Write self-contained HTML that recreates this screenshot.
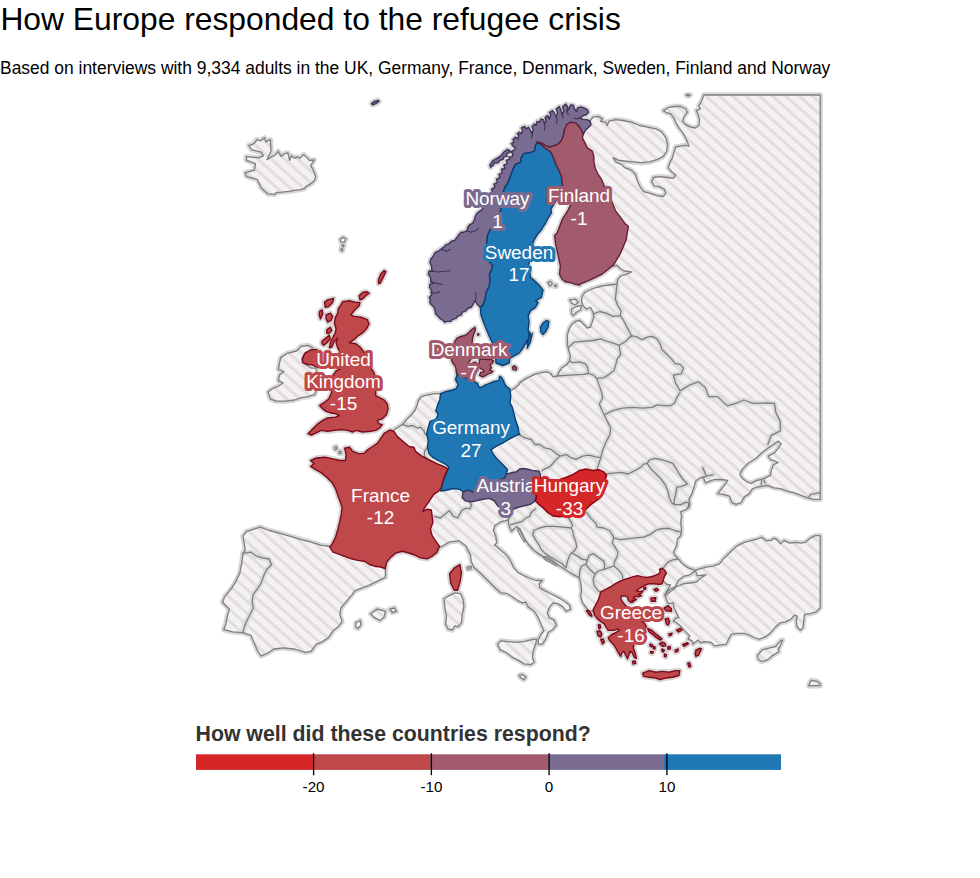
<!DOCTYPE html>
<html><head><meta charset="utf-8"><title>How Europe responded to the refugee crisis</title>
<style>
html,body{margin:0;padding:0;background:#fff;}
body{width:980px;height:878px;position:relative;overflow:hidden;font-family:"Liberation Sans",sans-serif;}
svg{position:absolute;left:0;top:0;}
text{font-family:"Liberation Sans",sans-serif;}
</style></head><body>
<svg width="980" height="878" viewBox="0 0 980 878">
<defs>
<pattern id="hatch" patternUnits="userSpaceOnUse" width="13.3" height="40" patternTransform="translate(11.2 0) skewX(48.2)">
<rect x="0" y="0" width="4.5" height="40" fill="#e4dddd"/>
</pattern>
<clipPath id="mapclip"><rect x="200" y="90" width="623" height="600"/></clipPath>
</defs>
<text x="0.4" y="30.3" font-size="31.8" fill="#000">How Europe responded to the refugee crisis</text>
<text x="0" y="73.6" font-size="17.45" fill="#000">Based on interviews with 9,334 adults in the UK, Germany, France, Denmark, Sweden, Finland and Norway</text>
<g clip-path="url(#mapclip)">
<g fill="none" stroke="#d6d6d6" stroke-width="5.4" stroke-linejoin="round" stroke-linecap="round">
<path d="M330.7,546.5 L321.6,545.4 L310.2,541.9 L301.1,539.7 L289.7,536.2 L278.3,532.8 L269.2,530.5 L260.1,527.1 L253.3,529.4 L246.4,531.7 L243,536.2 L244.2,543.1 L245.3,549.9 L243,553.3 L241.9,562.4 L239.6,573.8 L235.1,582.9 L230.5,589.8 L224.8,596.6 L222.5,602.3 L225.9,605.7 L229.4,609.1 L227.1,617.1 L225.9,623.9 L223.7,629.6 L232.8,631.9 L243,632.6 L251,635.3 L254.4,643.3 L257.8,651.2 L261.2,655.8 L266.9,653.5 L273.8,649 L282.9,647.8 L294.3,649 L305.7,652.4 L311.3,651.2 L315.9,644.4 L321.6,642.1 L328.4,637.6 L333,630.8 L338.7,626.2 L342.1,621.6 L339.8,614.8 L340.9,608 L346.6,601.1 L352.3,594.3 L354.6,590.9 L360.3,588.6 L369.4,585.2 L378.5,580.7 L385.4,577.2 L385.4,571.5 L386,562 L395,546 L430,546 L438,547 L441.6,546.5 L449.6,541.9 L458.7,540.8 L466.7,546.5 L467.2,549.1 L470.5,554.9 L471.3,561.5 L473.8,567.3 L479.5,572.2 L485.3,578 L491.1,583.8 L496.1,588.8 L501,592.9 L507.6,593.7 L512.6,597 L517.5,600.3 L522.5,602.8 L525.8,602 L528.2,606.9 L533.2,610.2 L536.5,614.4 L539,619.3 L541.5,625.1 L543.9,630.9 L540.6,635 L538.2,639.9 L538.2,644.1 L542.3,644.1 L545.6,639.1 L548.1,632.5 L553,629.2 L556.3,625.1 L553.8,620.1 L548.9,617.7 L547.2,612.7 L549.7,606.9 L553,602.8 L558,603.6 L562.9,606.9 L566.2,611.1 L570.4,609.4 L569.5,605.3 L565.4,602 L558.8,597.8 L552.2,594.5 L545.6,591.2 L539.8,587.9 L539,583.8 L542.3,580.5 L535.7,580.5 L529.1,578 L523.3,575.5 L517.5,572.2 L513.4,567.3 L510.9,561.5 L507.6,556.6 L503.5,552.4 L498.5,548.3 L494.4,545 L496.6,542.9 L495.8,536.3 L493.3,530.5 L495,525.5 L499.9,522.2 L505.7,520.6 L508.2,519.8 L509,525.5 L511.5,531.3 L514.8,528 L517.2,526.4 L520.5,530.5 L523.9,537.1 L528,543.7 L533.8,550.3 L539.5,554.4 L547,558.6 L554.4,562.7 L561,566.8 L567.6,571 L574.2,575.1 L579.2,577.6 L580.8,583.3 L581.6,589.9 L580.8,596.6 L582.5,602.3 L585.8,607.3 L589.1,610.6 L592.4,611.4 L602,600 L615,590 L630,583 L645,580 L658,578 L663,579 L663.6,581.4 L667,584.5 L670.5,585 L667.5,590 L665,594.8 L665,595.4 L668.3,603.7 L673.3,602.8 L674.1,607.8 L676.6,612.7 L679,617.7 L676.6,617.7 L673.3,621 L676.6,622.7 L680.7,626 L684.8,630.9 L689.8,635.9 L688.1,639.2 L692.2,640.8 L693.1,644.1 L698,640 L700.5,642.5 L705.5,641.6 L711.2,642.5 L714.5,645.8 L721.1,644.9 L726.1,644.1 L728.6,639.2 L731.1,634.2 L737.7,633.4 L744.3,633.4 L749.2,635 L754.2,637.5 L759.1,639.2 L765.7,636.7 L770.7,632.6 L775.6,626.8 L780.6,622.7 L785.5,621.8 L790.5,619.4 L794.6,615.2 L797.1,616.1 L796.3,621 L797.1,626.8 L800.4,630.1 L802.9,627.6 L803.7,621 L804.5,614.4 L810.3,613.6 L816.1,611.9 L820.2,607.8 L820.2,535.7 L815.3,535.7 L810.3,538.2 L805.4,542.3 L800.4,543.1 L795.4,542.3 L789.7,543.1 L783.9,540.6 L780.6,543.9 L777.3,539.8 L774,538.2 L770.7,540.6 L765.7,540.6 L761.6,537.3 L757.5,539 L750.9,540.6 L744.3,542.3 L737.7,545.6 L732.7,549.7 L727.7,554.7 L722.8,559.6 L719.5,563.8 L712.9,566.2 L706.3,567.1 L700.5,568.7 L695.5,570.4 L688.1,567.9 L682.3,563.8 L679,559.6 L674.9,555.5 L673.3,552.2 L676.6,545.6 L677.4,539 L680.7,535.7 L681.5,529.1 L680.7,522.5 L681.5,515.9 L680.7,511.7 L686.5,509.3 L689.8,504.3 L688.9,499.4 L691.4,494.4 L693.9,487.8 L695.5,481.2 L699.7,477.9 L703,477.1 L705.5,482.8 L709.6,481.2 L714.5,479.5 L721.1,479.5 L727.7,480.4 L724.4,485.3 L721.1,489.4 L717.8,493.6 L722.8,494.4 L729.4,496.1 L731.9,502.7 L736,504.3 L741,502.7 L744.3,496.9 L749.2,493.6 L752.5,488.6 L757.5,487 L762.4,486.1 L767.4,485.3 L774,487.8 L780.6,488.6 L787.2,491.1 L793.8,492.7 L800.4,495.2 L807,497.7 L813.6,499.4 L820.2,499.4 L820.2,95 L703.8,95 L703,97.4 L701.4,101.6 L698.9,105.7 L700.5,109 L696.4,110.6 L698.1,114.8 L699.7,119.7 L698.9,125.5 L695.6,128 L690.6,127.2 L685.7,124.7 L682.4,121.4 L684,116.4 L687.3,112.3 L685.7,109 L680.7,106.5 L674.9,106.5 L669.2,107.3 L663.4,110.6 L665.9,112.3 L670.8,113.9 L674.1,118.1 L676.6,123.9 L679.1,128 L682.4,132.1 L684.9,136.2 L687.3,141.2 L689,146.1 L685.7,145.3 L680.7,146.1 L675.8,147 L674.1,151.9 L672.5,157.7 L670,162.7 L668.3,167.6 L671.6,171.7 L675.8,175 L673.3,178.3 L667.5,177.5 L659.3,176.7 L653.5,177.5 L651.8,181.6 L654.3,185.8 L659.3,186.6 L664.2,189.1 L665.9,193.2 L663.4,196.5 L656.8,195.7 L649.4,193.2 L643.6,191.6 L639.4,185.8 L637,180 L635.3,174.2 L631.2,170.1 L624.6,167.6 L621.3,164.3 L615.5,161.8 L613,157.7 L618,160.2 L624.6,161 L632.8,161.8 L641.1,162.7 L649.4,161.8 L657.6,159.4 L663.4,156.1 L666.7,151.1 L667.5,144.5 L665.9,137.9 L661.7,132.1 L656,128.8 L647.7,127.2 L639.4,125.5 L631.2,122.2 L622.9,120.5 L615.5,119.7 L608.9,121.4 L607.2,125.5 L605.6,122.2 L600.6,121.4 L602.3,118.9 L598.2,116.4 L593.2,117.2 L589.9,120.5 L586,124 L580,137 L585,155 L592,175 L600,195 L610,215 L615,240 L610,262 L613.7,266.1 L617,265.2 L620.3,268.5 L624.4,271 L631.8,271.8 L626.1,274.3 L621.1,276 L617.8,279.3 L617,284.2 L609.5,285 L602.9,285.9 L596.3,287.5 L589.7,290 L584.8,292.5 L582.3,295.8 L581.5,300.7 L583.1,305.7 L586.4,309 L590.5,307.3 L593,312.3 L593.9,317.2 L592.2,322.2 L590.5,327.1 L587.2,328 L583.1,323.8 L579.8,320.5 L575.7,321.4 L572.4,323.8 L569.1,328.8 L567.4,335.4 L567.4,345 L568.7,349.5 L570.4,356.1 L569.5,361.1 L567.1,364.4 L562.1,367.7 L559.6,371 L557.2,376 L553,376.8 L550.5,373.5 L547.2,371.8 L541.5,372.7 L534.9,374.3 L526.6,378.4 L520,382.6 L519.1,384.5 L515,388 L511.2,390.3 L505,400 L470,410 L446,401 L440.6,393.6 L434.9,393.6 L426.6,395.2 L421.5,396.6 L418.5,400.5 L417.2,405 L415.3,410 L411.4,414.8 L406.4,419.8 L403.1,423.9 L398.2,427.2 L393.2,430.5 L395,440 L370,500 L345,540 L333,547Z M267.1,159.6 L271.4,156.8 L274.6,155.7 L278.2,151.4 L281.1,156.4 L284.3,153.9 L287.9,152.9 L289.6,160.4 L291.4,155.7 L294.3,158.2 L297.1,157.1 L300,158.2 L303.6,154.6 L307.1,157.9 L309.3,160.4 L314.3,160 L311.4,164.3 L310.4,165.7 L312.5,168.6 L314.3,172.9 L315.7,176.4 L314.6,180 L312.1,182.9 L309.3,184.6 L306.4,186.1 L304.3,188.6 L300,189.6 L294.3,190.4 L288.6,191.4 L282.1,192.1 L276.4,192.5 L274.6,194.3 L267.9,193.9 L264.3,190.7 L260.7,187.1 L259.3,183.2 L257.1,179.3 L252.9,178.2 L250,177.5 L246.4,176.1 L245.3,172.7 L254.4,170.4 L255.5,163.6 L246.4,160.2 L246.4,156.7 L259,157.9 L263.5,155.6 L261.2,152.2 L252.1,149.9 L248.7,145.4 L252.1,144.7 L255.5,141.9 L256.7,139.7 L260.6,140.8 L264.7,137.8 L265.8,141.9 L270.4,139.7 L271,151Z M340.3,239.3 L343,237.4 L345.8,239 L344.3,242.2 L341,242.2Z M342.3,244.6 L344,245.2 L343.3,247 L342,246.3Z M341.2,248.5 L342.8,249 L342.2,251 L341,250.2Z M280.6,357.9 L287.4,353.3 L296.5,351 L301.1,346.5 L307.9,345.4 L312.5,347.6 L311.3,351 L305.7,352.2 L302.2,357.9 L302.2,362.4 L305.7,364.7 L311.3,368.1 L315.9,368.1 L317,373.8 L318.2,380.7 L317,387.5 L314.8,394.3 L307.9,396.6 L301.1,397.7 L294.3,400 L285.2,401.1 L276,401.1 L270.4,398.9 L268.1,392 L272.6,388.6 L278.3,386.3 L282.9,382.9 L278.3,380.7 L279.5,375 L284,371.5 L278.3,369.3 L279.5,363.6Z M444,598.7 L448.2,596.2 L454.8,592.9 L460.5,593.7 L463,599.5 L463.9,606.1 L462.2,614.4 L461.4,622.6 L458.1,626.7 L454.8,625.9 L452.3,630 L448.2,629.2 L445.7,624.3 L446.5,616 L444.9,607.7Z M497.7,644.1 L501,640.8 L507.6,641.6 L515.9,642.4 L524.1,641.6 L530.7,639.9 L536.5,639.1 L535.7,644.1 L533.2,650.7 L532.4,657.3 L534,662.2 L530.7,664.7 L524.1,663.9 L519.2,660.6 L512.6,657.3 L506,652.3 L500.2,649.9Z M519.2,675.4 L522.5,674.6 L525.8,677.1 L524.1,679.6 L520.8,677.9Z M467.2,567.3 L471.3,566.5 L471,568.9 L467.6,569.4Z M370.6,613.7 L377.4,609.1 L385.4,611.4 L384.2,617.1 L379.7,620.5 L374,617.1Z M389.9,609.1 L394.5,608 L396.3,611.4 L392.2,612.5Z M355.8,622.8 L360.3,620.5 L360.8,625.1 L358,628.5 L355.8,627.3Z M757.5,655.7 L762.4,649.9 L769,648.2 L775.6,646.6 L780.6,640.8 L782.6,640 L780.6,644.9 L778.1,649.9 L778.9,651.6 L772.3,655.7 L767.4,659.8 L761.6,661.5 L758.3,659Z M808.7,685.7 L811.1,680.4 L816.9,681.3 L820.2,683.8 L820.2,685.7Z M569.9,299.9 L575.7,299.1 L578.2,302.4 L574.9,304.9 L571.6,303.2Z M571.6,309 L576.5,306.5 L581.5,305.7 L580.6,309.8 L576.5,312.3 L573.2,315.6 L571.6,313.1Z M548,282.6 L550.4,281.4 L552.4,283.9 L549.8,286Z M554.6,285.2 L556.1,284.9 L556.4,286.4 L554.9,286.7Z M686.2,95 L688.2,94.5 L690.3,95.1 L688.3,96.1Z M334.3,447.3 L336.3,446.5 L337.2,448.9 L335,449.8Z M338.8,451.4 L340.8,451.1 L341.3,453.4 L339.3,453.7Z"/>
<path d="M480.3,307.3 L477,304 L475.3,300.7 L473.7,303.2 L471.2,307.3 L467.9,308.2 L466.2,310.6 L462.1,312.3 L461.3,314.8 L457.2,316.4 L456.3,318.1 L452.2,319.7 L450.5,321.4 L447.2,321.4 L444.8,322.2 L442.3,319.7 L440.6,318.9 L437.3,315.6 L435.7,313.9 L434.9,309.8 L434,307.3 L430.7,304 L429.9,302.4 L430.2,299.1 L429.1,297.4 L431.6,294.9 L431.6,290.8 L429.6,287.5 L429.9,284.2 L433.2,283.4 L430.7,281.7 L430.7,277.6 L428.3,274.3 L429.1,271 L433.2,271.3 L431.6,269.4 L431.6,266.1 L429.9,262.7 L430.7,259.4 L433.2,256.1 L434.9,252.8 L438.2,251.2 L441.5,248.7 L443.9,247.1 L446.4,244.6 L448.9,243.8 L451.4,241.3 L454.7,240.5 L457.2,237.2 L458.8,234.7 L461.3,232.2 L463.8,232.2 L467.1,230.5 L467.9,227.2 L469.5,224.8 L472.8,223.1 L474.5,219.8 L475.3,216.5 L477,213.2 L482.6,209.1 L492.4,192.4 L491.6,189.1 L494.9,187.5 L494,184.2 L497.3,182.5 L496.5,179.2 L499.8,177.6 L499,174.3 L502.3,172.6 L501.5,169.3 L504.8,168.5 L503.9,165.2 L507.2,163.5 L506.4,160.2 L509.7,159.4 L508.9,156.9 L512.2,156.9 L513,153.6 L510.5,152 L513.9,150.3 L515.5,147.8 L513,146.2 L511.4,143.7 L513.9,142.1 L513,139.6 L515.5,137.1 L518,138.8 L518.8,135.5 L517.2,133.8 L519.6,132.2 L521.3,133.8 L522.6,130.5 L521.3,128 L524.6,126.4 L526.2,128.9 L528.7,127.2 L530.4,130.5 L532,133.8 L533.2,129.7 L532,126.4 L534.5,123.9 L536.1,125.5 L537,121.4 L539.4,122.2 L541.1,118.9 L543.6,119.8 L544.4,123.9 L546.1,121.4 L545.2,117.3 L547.7,115.6 L549.4,118.9 L550.7,114.8 L549.4,112.3 L552.7,110.7 L554.3,113.2 L556,116.5 L557.6,113.2 L556.3,109 L559.3,106.6 L560.9,109.9 L562.2,114.8 L563.9,110.7 L562.6,106.6 L565.9,104.1 L567.8,107.4 L567.2,111.5 L569.2,108.2 L570.5,104.9 L573.3,105.2 L574.5,109 L576.6,111.5 L577.4,107.9 L580.7,106.9 L584,107.9 L587.3,109.9 L588.5,112.3 L586.5,114.5 L583.2,115.6 L579.9,118.1 L583.2,119.4 L587.3,119.8 L590.3,121.1 L591,125.1 L588.2,127.7 L585.4,130.2 L583.2,134.6 L581.6,130.5 L579.1,126.4 L575.8,123.1 L570.8,122.2 L566.7,124.7 L564.2,130.5 L563.4,136.3 L560.9,141.2 L557.6,144.5 L552.7,146.2 L549.4,147 L545.2,145.4 L541.1,142.9 L537,142.1 L535.3,146.2 L534.5,151.1 L529.5,152.8 L523.8,153.6 L521.3,157.7 L520.5,162.7 L515.5,164.4 L513,169.3 L510.5,175.9 L508.1,182.5 L504.8,187.5 L503.1,192.4 L500.9,209.9 L497.6,218.2 L492.7,226.4 L490.2,229.7 L487.7,234.7 L486.9,241.3 L486.1,249.5 L486.9,254.5 L488.5,261.1 L492.7,265.2 L491.8,269.4 L489.4,274.3 L490.2,279.3 L489.4,285.9 L486.1,292.5 L485.2,299.1 L482.7,305.7Z M489.9,165.2 L492.4,161.1 L496.5,158.6 L500.6,156.1 L503.9,152 L507.2,149.5 L509.7,150.3 L508.9,152.8 L506.4,153.6 L507.2,156.1 L503.9,156.9 L503.1,159.4 L499.8,160.2 L498.2,162.7 L494.9,162.7 L493.2,165.2 L490.7,167.2Z M371.5,103.5 L374,101.5 L378,100.3 L379,101.5 L376,103.5 L372.5,104.8Z M537,142.1 L541.1,144.5 L546.1,148.7 L551,152 L553.5,157.7 L556,164.4 L559.3,171 L561.7,177.6 L562.6,185 L560.9,189.1 L556,200.7 L551,208.9 L551.3,213.2 L548,218.2 L545.5,223.1 L541.4,229.7 L537.2,234.7 L533.9,240.5 L532.3,244.6 L530.6,254.5 L529,263.6 L527.3,266.1 L529.8,272.7 L530.6,277.6 L534.8,280.9 L538.9,285 L543,290 L541.4,297.4 L535.6,300.7 L538.1,302.4 L535.6,307.3 L530.6,310.6 L528.2,315.6 L529,322.2 L528.2,328.8 L529,335.4 L527.3,345 L527.3,339.9 L524,346.5 L519.1,353.1 L510,358.1 L509.2,363 L502.6,365.5 L496,363 L495.1,349.8 L492.7,343.2 L489.4,336.6 L486.1,328.8 L483.6,322.2 L481.1,315.6 L480.3,307.3 L482.7,305.7 L485.2,299.1 L486.1,292.5 L489.4,285.9 L490.2,279.3 L489.4,274.3 L491.8,269.4 L492.7,265.2 L488.5,261.1 L486.9,254.5 L486.1,249.5 L486.9,241.3 L487.7,234.7 L490.2,229.7 L492.7,226.4 L497.6,218.2 L500.9,209.9 L503.1,192.4 L504.8,187.5 L508.1,182.5 L510.5,175.9 L513,169.3 L515.5,164.4 L520.5,162.7 L521.3,157.7 L523.8,153.6 L529.5,152.8 L534.5,151.1 L535.3,146.2Z M540.5,327.1 L543,323 L546.3,320.5 L548.8,321.4 L548,327.1 L545.5,332.1 L543,334.6 L540.9,332.1Z M529.8,332.1 L531,337.1 L530.3,342 L532.3,333.3 L529.8,343.2 L527.3,348.2 L528.2,339.9 L528.2,340.4Z M537,142.1 L541.1,142.9 L545.2,145.4 L549.4,147 L552.7,146.2 L557.6,144.5 L560.9,141.2 L563.4,136.3 L564.2,130.5 L566.7,124.7 L570.8,122.2 L575.8,123.1 L579.1,126.4 L581.6,130.5 L583.2,134.6 L582.4,137.9 L584.9,142.9 L587.3,147.8 L592.3,151.1 L593.9,156.1 L593.9,162.7 L595.6,169.3 L598.1,174.3 L601.4,179.2 L603.8,185 L607.1,190.8 L612.1,202.3 L615.4,210.6 L620.4,217.2 L625.3,223.8 L628.4,226.2 L626.1,239.9 L620.4,253.5 L613.6,264.9 L602.2,274 L590.8,279.7 L579.4,284.3 L580,285 L575.2,284.2 L570.3,282.6 L565.3,281.7 L562,279.3 L559.5,274.3 L560.4,266.1 L557.9,254.5 L555.4,242.9 L554.6,235.5 L557.1,233 L562.3,219.4 L568,210.3 L571.4,203.4 L565.9,194.1 L560.9,189.1 L562.6,185 L561.7,177.6 L559.3,171 L556,164.4 L553.5,157.7 L551,152 L546.1,148.7 L541.1,144.5Z M474.9,327.3 L475.4,330.1 L473.5,334.7 L472.6,338.4 L472.1,342 L471.7,347.5 L470.3,353.1 L471.2,358.6 L469.4,361.3 L467.5,364.1 L466.6,367.8 L467.5,371.4 L468.5,375.1 L467.5,378.8 L460.2,375.1 L457,374.2 L456.5,373.3 L456.1,369.6 L455.2,365.9 L452.9,363.2 L451.5,359.9 L451.9,354.9 L452.9,349.4 L454.2,343 L455.2,340.7 L457.4,337.9 L461.1,336.5 L465.7,335.2 L468.5,332.9 L471.2,330.1Z M479.5,359.5 L483.2,359 L487.8,359.5 L491.4,359.5 L493.7,360.9 L492.3,363.2 L490,365 L491.4,367.8 L489.6,370 L492.8,371.4 L491.4,372.8 L487.8,374.2 L485,376 L482.2,376.9 L479.5,375.1 L480.9,372.3 L484.1,371.9 L483.2,369.6 L480.4,368.7 L479,365.9Z M472.1,363.2 L475.4,362.2 L477.6,364.1 L477.2,367.8 L474.9,370 L472.1,368.7 L471.2,365.9Z M512.5,366.8 L514.4,365.9 L516.7,367.8 L516.2,370 L513,369.6Z M477.5,334 L478.6,333.8 L478.9,334.9 L477.8,335.2Z M457.2,374.6 L455.5,379.5 L458,384.5 L456.3,388.6 L451.4,390.3 L444.8,391.9 L440.6,393.6 L439.8,399.4 L437.3,406 L435.7,410.9 L438.2,414.2 L435.7,419.2 L429.9,421.6 L428.3,427.4 L426.6,434 L428.3,440.6 L427.4,447.2 L429.1,453.8 L432.4,457.1 L438.2,460.4 L444.8,463.8 L448.9,467.1 L445.7,474.5 L443.2,481.1 L441.6,487.7 L440.7,491 L446.5,490.2 L453.1,488.5 L459.7,489.4 L463,491.8 L468.8,490.2 L473.8,492.7 L477.1,490.2 L481.2,491 L486.1,487.7 L491.1,486.1 L496.1,482.7 L501,479.4 L505.1,477.8 L506,474.5 L507.6,469.5 L502.7,464.6 L497.7,459.6 L493.6,454.7 L491.1,449.7 L496.1,446.4 L502.7,443.1 L509.3,439 L515.9,435.7 L520,434 L519.1,434 L518.2,427.4 L515.8,420.8 L514.1,414.2 L512.5,407.6 L510,402.7 L510.8,396.1 L510,390.3 L509.8,388.9 L507,387 L504.7,384.3 L503.4,380.6 L501.5,377.4 L499.7,376.5 L498.8,380.6 L494.2,381.5 L489.6,383.4 L485,385.2 L481.3,387.5 L478.6,386.6 L477.6,383.4 L473.1,381.1 L467.5,378.8 L460.2,375.1 L457,374.2Z M463,491.8 L462.2,497.6 L465.5,500.9 L471.3,501.7 L476.2,500.9 L482.8,499.3 L489.4,498.4 L494.4,500.9 L497.7,505.9 L502.7,509.2 L510.9,510 L517.5,507.5 L524.1,505.9 L530.7,504.2 L534.9,500.9 L536.5,496 L534.9,491 L537.3,486.1 L539.8,481.1 L540.6,475.3 L539,471.2 L532.4,470.4 L525.8,468.7 L520,468.7 L515.9,472 L510.9,472.8 L506,474.5 L505.1,477.8 L501,479.4 L496.1,482.7 L491.1,486.1 L486.1,487.7 L481.2,491 L477.1,490.2 L473.8,492.7 L468.8,490.2Z M541,478 L546,479 L553,480 L560,479.5 L564.5,478 L572.7,474.7 L579.4,470.5 L586,469 L592.6,470.5 L599.2,469.7 L604,472.2 L606.6,475.5 L605,480.5 L602.5,486 L600,498 L596,501 L591,504.4 L587.6,507.7 L584.3,511 L582.7,513.5 L576,515 L567.8,516 L559.5,516.8 L553,516 L548,512.7 L543,507.7 L539,504.4 L535.6,501 L536.5,496 L535,491 L538,485Z M390,430 L394.1,431.6 L397.4,436.6 L403.2,441.5 L409,446.5 L413.9,447.3 L415.6,451.4 L422.2,456.4 L430.4,460.5 L437.1,463.8 L443.7,466.3 L447.8,468.8 L445.3,474.5 L442.8,481.1 L441.2,487.7 L438.7,491.1 L433.8,494.4 L430.4,499.3 L427.1,504.3 L423.8,509.2 L423,511.7 L427.1,509.2 L431.3,510 L432.1,515.8 L432.9,522.4 L430.4,529 L432.1,535.6 L435.4,540.6 L439.5,546.4 L437.1,552.1 L432.1,556.3 L427.1,558.8 L420.5,557.9 L415.6,555.4 L409,553 L402.4,551.3 L395.8,553 L390.8,557.1 L386.7,562.1 L385,568.7 L380.9,567 L374.3,566.2 L369.4,564.5 L364.4,561.2 L357.8,560.4 L351.2,558.8 L344.6,556.3 L338,553.8 L333,552.1 L329.7,547.2 L332.2,543.9 L335.5,537.3 L338,529 L339.6,522.4 L341.3,514.2 L342.1,507.6 L340.5,502.6 L338,496 L335.5,488.6 L332.2,482.8 L327.2,477.8 L321.5,472.9 L315.7,469.6 L310.7,466.3 L314,463.8 L310.7,460.5 L316.5,458 L324.8,457.2 L333,458.9 L339.6,460.5 L345.4,460.5 L346.2,454.7 L344.6,448.1 L349.5,447.3 L352.8,451.4 L359.4,453.9 L364.4,453.1 L367.7,449.8 L372.7,446.5 L377.6,443.2 L380.9,438.2 L384.2,433.3Z M449.6,573.8 L454.2,568.1 L459.9,564.7 L461.4,572.7 L460.3,580.7 L457.6,590.2 L454.2,590.2 L450.7,582.9Z M342.7,301.6 L349.3,300.7 L355.9,302.4 L360,302.4 L359.2,305.7 L355,309.8 L350.9,314.8 L354.2,316.4 L360.8,317.2 L367.4,319.7 L369.1,323.9 L366.6,328.8 L362.5,332.9 L357.5,336.2 L354.2,339.5 L349.3,342.8 L355.9,343.7 L360,347 L363.3,351.1 L365.8,356.1 L369.1,362.7 L370.7,367.6 L374,372.6 L376.5,382.5 L375.7,389.1 L375.7,395.7 L379,397.3 L383.9,399.8 L387.2,403.9 L388.1,408.9 L386.4,414.7 L382.3,418.8 L377.3,420.4 L379,423.8 L382.3,424.6 L379.8,427.9 L375.7,430.4 L370.7,431.2 L362.5,432 L355.9,430.4 L352.6,432 L347.6,430.4 L341,429.5 L334.4,430.4 L327.8,431.2 L321.2,430.4 L316.2,432.8 L311.3,435 L308,433.7 L312.9,428.7 L317.9,423.8 L322.8,420.4 L327.8,418 L335.2,417.1 L339.4,415.5 L336.1,413.8 L331.1,413 L326.1,411.4 L322.8,408.9 L319.5,405.6 L324.5,402.3 L328.6,399 L331.1,394 L331.9,390.7 L333.6,382.5 L332.7,375.9 L336.1,370.9 L342.7,367.6 L344.3,364.3 L342.7,356.1 L337.7,347.8 L336.1,342.8 L337.7,337.9 L334.4,341.2 L331.9,347 L329.4,347.8 L330.3,342.8 L332.7,337.9 L335.2,332.9 L336.1,328.8 L334.4,323 L335.2,318.1 L337.7,313.1 L338.5,308.2 L341,304.9Z M302.2,359.4 L304.7,353.6 L309.6,350.3 L315.4,349.4 L319.5,351.1 L321.2,356.1 L320.4,362.7 L317.9,367.6 L312.9,365.1 L307.2,364.3 L303,362.7Z M324.5,302.4 L327.8,299.9 L333.6,298.3 L332.7,302.4 L328.6,306.5 L325.3,307.3Z M319.5,311.5 L322,309.8 L322.8,313.9 L320.4,318.9 L319.2,314.8Z M326.1,314.8 L330.3,313.1 L332.7,316.4 L331.1,320.5 L327.8,322.2 L326.1,318.9Z M327,329.6 L330.3,327.2 L331.9,330.5 L328.6,333.8 L326.6,332.9Z M322,341.2 L326.1,337.9 L329.4,335.4 L330.3,338.7 L327,342.8 L323.7,345.3 L322,343.7Z M359.2,295.8 L362.5,292.5 L366.6,291.7 L369.1,293.3 L365.8,295.8 L362.5,299.1 L360,299.9Z M378.5,279.7 L380.8,274 L384.2,270.6 L385.8,271.7 L383.1,277.4 L380.3,283.1 L378.5,283.6Z M593.1,609.5 L595.6,605.1 L598.2,600.1 L600,595.1 L600.7,591.9 L605.7,589.4 L611.3,586.3 L616.3,583.2 L621.3,580.7 L626.3,578.8 L632.6,576.9 L637.6,575.6 L642.6,576.9 L647.6,577.5 L652.6,576.3 L657.7,574.4 L660.2,572.5 L659.5,569.4 L662,568.1 L664.5,570 L666.4,573.1 L664.5,576.3 L663.3,580 L662,583.8 L658.9,584.4 L653.9,583.8 L648.9,583.8 L645.1,585 L642,586.9 L638.9,588.8 L636.4,590.7 L640.1,591.6 L643.2,590.7 L641.4,593.2 L638.2,594.4 L641.4,595.7 L638.9,596.9 L635.1,596.3 L633.2,597.6 L636.4,599.4 L634.5,600.7 L632,600.1 L633.2,602 L630.7,602.6 L628.2,600.1 L627.6,596.9 L623.8,595.7 L621.3,596.3 L620.7,598.8 L622.6,602 L625.1,605.1 L628.8,608.2 L635.1,615.1 L640.1,620.1 L643.9,622.6 L646.4,626.4 L645.1,628.9 L641.4,627.6 L637.6,628.9 L635.1,632.6 L634.5,637.7 L633.9,645.2 L633.2,647.7 L635.1,652.7 L636.4,658.3 L634.5,657.7 L632,652.7 L630.1,651.4 L628.8,655.2 L627.6,658.9 L625.7,655.2 L623.8,651.4 L622,652.7 L620.7,656.4 L618.2,652.7 L616.3,648.9 L614.4,645.8 L611.9,642.7 L609.4,640.2 L608.2,637.7 L611.9,634.5 L616.3,632.4 L619.4,630.4 L618.2,628.9 L613.8,630.4 L608.2,630.4 L606.3,627.6 L604.4,623.9 L601.3,622 L597.5,618.9 L594.4,615.1Z M586.3,610.7 L588.1,610.1 L591.3,613.9 L591.9,616.4 L589.4,615.1Z M598.2,625.1 L600,624.5 L600.7,627.6 L599,628.9Z M596.9,631.4 L600,630.8 L601.9,633.9 L600.7,637 L598.2,635.8Z M600.7,639.5 L603.2,638.9 L604.4,642 L602.5,643.9Z M632.6,661.5 L635.1,660.8 L635.7,663.3 L633.2,664Z M653.9,589.4 L657,588.2 L658.3,590.1 L655.8,591.3Z M650.8,598.2 L655.8,597.6 L655.1,601.3 L651.4,601.3Z M663.9,608.2 L668.3,605.7 L671.4,608.8 L671.4,611.3 L665.8,610.7Z M665.2,618.9 L668.3,618.2 L669.6,622 L668.3,625.1 L666.4,623.9Z M676.4,630.1 L680.2,628.3 L682.1,630.1 L678.3,632Z M668.9,633.9 L672.1,633.3 L671.4,635.1 L669.2,635.8Z M682.7,644.5 L687.7,642.7 L688.3,643.9 L684,646.4Z M695.9,650.2 L699.6,648.3 L701.5,648.9 L698.4,655.2 L695.9,656.4 L695.2,653.9Z M687.7,663.3 L689.6,662.7 L690.8,666.5 L689,667.1Z M647.6,628.3 L651.4,630.1 L655.1,633.3 L658.9,636.4 L662,638.9 L660.2,640.2 L656.4,637.7 L652.6,634.5 L648.9,631.4Z M650.1,643.9 L652.6,645.2 L651.4,647 L649.8,645.8Z M653.3,646.4 L655.1,647 L654.9,649.2 L653.3,648.7Z M650.8,651.4 L653.3,651.7 L652.6,653.3 L650.4,652.9Z M659.5,643.9 L662,642 L665.2,643.3 L665.8,645.8 L662.7,646.4Z M662,648.9 L664.5,650.2 L663.3,652.1 L661.7,650.8Z M667.7,647 L670.2,646.4 L670.4,648.9 L667.9,649.2Z M675.2,650.2 L678.3,648.9 L677.9,651.4 L675.4,652.1Z M664.5,653.9 L666.4,654.6 L665.8,657.1 L664.3,656.2Z M643.9,587.5 L645.8,587.3 L645.5,589.4 L643.9,589.4Z M642.7,673.1 L649.3,670.6 L655.9,672.2 L662.5,671.4 L669.1,672.2 L675.7,670.6 L679.8,670.6 L679,675.5 L672.4,677.2 L665.8,678 L660,679.7 L655.9,678 L649.3,677.2 L643.5,676.4Z"/>
</g>
<path d="M330.7,546.5 L321.6,545.4 L310.2,541.9 L301.1,539.7 L289.7,536.2 L278.3,532.8 L269.2,530.5 L260.1,527.1 L253.3,529.4 L246.4,531.7 L243,536.2 L244.2,543.1 L245.3,549.9 L243,553.3 L241.9,562.4 L239.6,573.8 L235.1,582.9 L230.5,589.8 L224.8,596.6 L222.5,602.3 L225.9,605.7 L229.4,609.1 L227.1,617.1 L225.9,623.9 L223.7,629.6 L232.8,631.9 L243,632.6 L251,635.3 L254.4,643.3 L257.8,651.2 L261.2,655.8 L266.9,653.5 L273.8,649 L282.9,647.8 L294.3,649 L305.7,652.4 L311.3,651.2 L315.9,644.4 L321.6,642.1 L328.4,637.6 L333,630.8 L338.7,626.2 L342.1,621.6 L339.8,614.8 L340.9,608 L346.6,601.1 L352.3,594.3 L354.6,590.9 L360.3,588.6 L369.4,585.2 L378.5,580.7 L385.4,577.2 L385.4,571.5 L386,562 L395,546 L430,546 L438,547 L441.6,546.5 L449.6,541.9 L458.7,540.8 L466.7,546.5 L467.2,549.1 L470.5,554.9 L471.3,561.5 L473.8,567.3 L479.5,572.2 L485.3,578 L491.1,583.8 L496.1,588.8 L501,592.9 L507.6,593.7 L512.6,597 L517.5,600.3 L522.5,602.8 L525.8,602 L528.2,606.9 L533.2,610.2 L536.5,614.4 L539,619.3 L541.5,625.1 L543.9,630.9 L540.6,635 L538.2,639.9 L538.2,644.1 L542.3,644.1 L545.6,639.1 L548.1,632.5 L553,629.2 L556.3,625.1 L553.8,620.1 L548.9,617.7 L547.2,612.7 L549.7,606.9 L553,602.8 L558,603.6 L562.9,606.9 L566.2,611.1 L570.4,609.4 L569.5,605.3 L565.4,602 L558.8,597.8 L552.2,594.5 L545.6,591.2 L539.8,587.9 L539,583.8 L542.3,580.5 L535.7,580.5 L529.1,578 L523.3,575.5 L517.5,572.2 L513.4,567.3 L510.9,561.5 L507.6,556.6 L503.5,552.4 L498.5,548.3 L494.4,545 L496.6,542.9 L495.8,536.3 L493.3,530.5 L495,525.5 L499.9,522.2 L505.7,520.6 L508.2,519.8 L509,525.5 L511.5,531.3 L514.8,528 L517.2,526.4 L520.5,530.5 L523.9,537.1 L528,543.7 L533.8,550.3 L539.5,554.4 L547,558.6 L554.4,562.7 L561,566.8 L567.6,571 L574.2,575.1 L579.2,577.6 L580.8,583.3 L581.6,589.9 L580.8,596.6 L582.5,602.3 L585.8,607.3 L589.1,610.6 L592.4,611.4 L602,600 L615,590 L630,583 L645,580 L658,578 L663,579 L663.6,581.4 L667,584.5 L670.5,585 L667.5,590 L665,594.8 L665,595.4 L668.3,603.7 L673.3,602.8 L674.1,607.8 L676.6,612.7 L679,617.7 L676.6,617.7 L673.3,621 L676.6,622.7 L680.7,626 L684.8,630.9 L689.8,635.9 L688.1,639.2 L692.2,640.8 L693.1,644.1 L698,640 L700.5,642.5 L705.5,641.6 L711.2,642.5 L714.5,645.8 L721.1,644.9 L726.1,644.1 L728.6,639.2 L731.1,634.2 L737.7,633.4 L744.3,633.4 L749.2,635 L754.2,637.5 L759.1,639.2 L765.7,636.7 L770.7,632.6 L775.6,626.8 L780.6,622.7 L785.5,621.8 L790.5,619.4 L794.6,615.2 L797.1,616.1 L796.3,621 L797.1,626.8 L800.4,630.1 L802.9,627.6 L803.7,621 L804.5,614.4 L810.3,613.6 L816.1,611.9 L820.2,607.8 L820.2,535.7 L815.3,535.7 L810.3,538.2 L805.4,542.3 L800.4,543.1 L795.4,542.3 L789.7,543.1 L783.9,540.6 L780.6,543.9 L777.3,539.8 L774,538.2 L770.7,540.6 L765.7,540.6 L761.6,537.3 L757.5,539 L750.9,540.6 L744.3,542.3 L737.7,545.6 L732.7,549.7 L727.7,554.7 L722.8,559.6 L719.5,563.8 L712.9,566.2 L706.3,567.1 L700.5,568.7 L695.5,570.4 L688.1,567.9 L682.3,563.8 L679,559.6 L674.9,555.5 L673.3,552.2 L676.6,545.6 L677.4,539 L680.7,535.7 L681.5,529.1 L680.7,522.5 L681.5,515.9 L680.7,511.7 L686.5,509.3 L689.8,504.3 L688.9,499.4 L691.4,494.4 L693.9,487.8 L695.5,481.2 L699.7,477.9 L703,477.1 L705.5,482.8 L709.6,481.2 L714.5,479.5 L721.1,479.5 L727.7,480.4 L724.4,485.3 L721.1,489.4 L717.8,493.6 L722.8,494.4 L729.4,496.1 L731.9,502.7 L736,504.3 L741,502.7 L744.3,496.9 L749.2,493.6 L752.5,488.6 L757.5,487 L762.4,486.1 L767.4,485.3 L774,487.8 L780.6,488.6 L787.2,491.1 L793.8,492.7 L800.4,495.2 L807,497.7 L813.6,499.4 L820.2,499.4 L820.2,95 L703.8,95 L703,97.4 L701.4,101.6 L698.9,105.7 L700.5,109 L696.4,110.6 L698.1,114.8 L699.7,119.7 L698.9,125.5 L695.6,128 L690.6,127.2 L685.7,124.7 L682.4,121.4 L684,116.4 L687.3,112.3 L685.7,109 L680.7,106.5 L674.9,106.5 L669.2,107.3 L663.4,110.6 L665.9,112.3 L670.8,113.9 L674.1,118.1 L676.6,123.9 L679.1,128 L682.4,132.1 L684.9,136.2 L687.3,141.2 L689,146.1 L685.7,145.3 L680.7,146.1 L675.8,147 L674.1,151.9 L672.5,157.7 L670,162.7 L668.3,167.6 L671.6,171.7 L675.8,175 L673.3,178.3 L667.5,177.5 L659.3,176.7 L653.5,177.5 L651.8,181.6 L654.3,185.8 L659.3,186.6 L664.2,189.1 L665.9,193.2 L663.4,196.5 L656.8,195.7 L649.4,193.2 L643.6,191.6 L639.4,185.8 L637,180 L635.3,174.2 L631.2,170.1 L624.6,167.6 L621.3,164.3 L615.5,161.8 L613,157.7 L618,160.2 L624.6,161 L632.8,161.8 L641.1,162.7 L649.4,161.8 L657.6,159.4 L663.4,156.1 L666.7,151.1 L667.5,144.5 L665.9,137.9 L661.7,132.1 L656,128.8 L647.7,127.2 L639.4,125.5 L631.2,122.2 L622.9,120.5 L615.5,119.7 L608.9,121.4 L607.2,125.5 L605.6,122.2 L600.6,121.4 L602.3,118.9 L598.2,116.4 L593.2,117.2 L589.9,120.5 L586,124 L580,137 L585,155 L592,175 L600,195 L610,215 L615,240 L610,262 L613.7,266.1 L617,265.2 L620.3,268.5 L624.4,271 L631.8,271.8 L626.1,274.3 L621.1,276 L617.8,279.3 L617,284.2 L609.5,285 L602.9,285.9 L596.3,287.5 L589.7,290 L584.8,292.5 L582.3,295.8 L581.5,300.7 L583.1,305.7 L586.4,309 L590.5,307.3 L593,312.3 L593.9,317.2 L592.2,322.2 L590.5,327.1 L587.2,328 L583.1,323.8 L579.8,320.5 L575.7,321.4 L572.4,323.8 L569.1,328.8 L567.4,335.4 L567.4,345 L568.7,349.5 L570.4,356.1 L569.5,361.1 L567.1,364.4 L562.1,367.7 L559.6,371 L557.2,376 L553,376.8 L550.5,373.5 L547.2,371.8 L541.5,372.7 L534.9,374.3 L526.6,378.4 L520,382.6 L519.1,384.5 L515,388 L511.2,390.3 L505,400 L470,410 L446,401 L440.6,393.6 L434.9,393.6 L426.6,395.2 L421.5,396.6 L418.5,400.5 L417.2,405 L415.3,410 L411.4,414.8 L406.4,419.8 L403.1,423.9 L398.2,427.2 L393.2,430.5 L395,440 L370,500 L345,540 L333,547Z M267.1,159.6 L271.4,156.8 L274.6,155.7 L278.2,151.4 L281.1,156.4 L284.3,153.9 L287.9,152.9 L289.6,160.4 L291.4,155.7 L294.3,158.2 L297.1,157.1 L300,158.2 L303.6,154.6 L307.1,157.9 L309.3,160.4 L314.3,160 L311.4,164.3 L310.4,165.7 L312.5,168.6 L314.3,172.9 L315.7,176.4 L314.6,180 L312.1,182.9 L309.3,184.6 L306.4,186.1 L304.3,188.6 L300,189.6 L294.3,190.4 L288.6,191.4 L282.1,192.1 L276.4,192.5 L274.6,194.3 L267.9,193.9 L264.3,190.7 L260.7,187.1 L259.3,183.2 L257.1,179.3 L252.9,178.2 L250,177.5 L246.4,176.1 L245.3,172.7 L254.4,170.4 L255.5,163.6 L246.4,160.2 L246.4,156.7 L259,157.9 L263.5,155.6 L261.2,152.2 L252.1,149.9 L248.7,145.4 L252.1,144.7 L255.5,141.9 L256.7,139.7 L260.6,140.8 L264.7,137.8 L265.8,141.9 L270.4,139.7 L271,151Z M340.3,239.3 L343,237.4 L345.8,239 L344.3,242.2 L341,242.2Z M342.3,244.6 L344,245.2 L343.3,247 L342,246.3Z M341.2,248.5 L342.8,249 L342.2,251 L341,250.2Z M280.6,357.9 L287.4,353.3 L296.5,351 L301.1,346.5 L307.9,345.4 L312.5,347.6 L311.3,351 L305.7,352.2 L302.2,357.9 L302.2,362.4 L305.7,364.7 L311.3,368.1 L315.9,368.1 L317,373.8 L318.2,380.7 L317,387.5 L314.8,394.3 L307.9,396.6 L301.1,397.7 L294.3,400 L285.2,401.1 L276,401.1 L270.4,398.9 L268.1,392 L272.6,388.6 L278.3,386.3 L282.9,382.9 L278.3,380.7 L279.5,375 L284,371.5 L278.3,369.3 L279.5,363.6Z M444,598.7 L448.2,596.2 L454.8,592.9 L460.5,593.7 L463,599.5 L463.9,606.1 L462.2,614.4 L461.4,622.6 L458.1,626.7 L454.8,625.9 L452.3,630 L448.2,629.2 L445.7,624.3 L446.5,616 L444.9,607.7Z M497.7,644.1 L501,640.8 L507.6,641.6 L515.9,642.4 L524.1,641.6 L530.7,639.9 L536.5,639.1 L535.7,644.1 L533.2,650.7 L532.4,657.3 L534,662.2 L530.7,664.7 L524.1,663.9 L519.2,660.6 L512.6,657.3 L506,652.3 L500.2,649.9Z M519.2,675.4 L522.5,674.6 L525.8,677.1 L524.1,679.6 L520.8,677.9Z M467.2,567.3 L471.3,566.5 L471,568.9 L467.6,569.4Z M370.6,613.7 L377.4,609.1 L385.4,611.4 L384.2,617.1 L379.7,620.5 L374,617.1Z M389.9,609.1 L394.5,608 L396.3,611.4 L392.2,612.5Z M355.8,622.8 L360.3,620.5 L360.8,625.1 L358,628.5 L355.8,627.3Z M757.5,655.7 L762.4,649.9 L769,648.2 L775.6,646.6 L780.6,640.8 L782.6,640 L780.6,644.9 L778.1,649.9 L778.9,651.6 L772.3,655.7 L767.4,659.8 L761.6,661.5 L758.3,659Z M808.7,685.7 L811.1,680.4 L816.9,681.3 L820.2,683.8 L820.2,685.7Z M569.9,299.9 L575.7,299.1 L578.2,302.4 L574.9,304.9 L571.6,303.2Z M571.6,309 L576.5,306.5 L581.5,305.7 L580.6,309.8 L576.5,312.3 L573.2,315.6 L571.6,313.1Z M548,282.6 L550.4,281.4 L552.4,283.9 L549.8,286Z M554.6,285.2 L556.1,284.9 L556.4,286.4 L554.9,286.7Z M686.2,95 L688.2,94.5 L690.3,95.1 L688.3,96.1Z M334.3,447.3 L336.3,446.5 L337.2,448.9 L335,449.8Z M338.8,451.4 L340.8,451.1 L341.3,453.4 L339.3,453.7Z" fill="#f3f1f1" fill-rule="evenodd"/>
<path d="M330.7,546.5 L321.6,545.4 L310.2,541.9 L301.1,539.7 L289.7,536.2 L278.3,532.8 L269.2,530.5 L260.1,527.1 L253.3,529.4 L246.4,531.7 L243,536.2 L244.2,543.1 L245.3,549.9 L243,553.3 L241.9,562.4 L239.6,573.8 L235.1,582.9 L230.5,589.8 L224.8,596.6 L222.5,602.3 L225.9,605.7 L229.4,609.1 L227.1,617.1 L225.9,623.9 L223.7,629.6 L232.8,631.9 L243,632.6 L251,635.3 L254.4,643.3 L257.8,651.2 L261.2,655.8 L266.9,653.5 L273.8,649 L282.9,647.8 L294.3,649 L305.7,652.4 L311.3,651.2 L315.9,644.4 L321.6,642.1 L328.4,637.6 L333,630.8 L338.7,626.2 L342.1,621.6 L339.8,614.8 L340.9,608 L346.6,601.1 L352.3,594.3 L354.6,590.9 L360.3,588.6 L369.4,585.2 L378.5,580.7 L385.4,577.2 L385.4,571.5 L386,562 L395,546 L430,546 L438,547 L441.6,546.5 L449.6,541.9 L458.7,540.8 L466.7,546.5 L467.2,549.1 L470.5,554.9 L471.3,561.5 L473.8,567.3 L479.5,572.2 L485.3,578 L491.1,583.8 L496.1,588.8 L501,592.9 L507.6,593.7 L512.6,597 L517.5,600.3 L522.5,602.8 L525.8,602 L528.2,606.9 L533.2,610.2 L536.5,614.4 L539,619.3 L541.5,625.1 L543.9,630.9 L540.6,635 L538.2,639.9 L538.2,644.1 L542.3,644.1 L545.6,639.1 L548.1,632.5 L553,629.2 L556.3,625.1 L553.8,620.1 L548.9,617.7 L547.2,612.7 L549.7,606.9 L553,602.8 L558,603.6 L562.9,606.9 L566.2,611.1 L570.4,609.4 L569.5,605.3 L565.4,602 L558.8,597.8 L552.2,594.5 L545.6,591.2 L539.8,587.9 L539,583.8 L542.3,580.5 L535.7,580.5 L529.1,578 L523.3,575.5 L517.5,572.2 L513.4,567.3 L510.9,561.5 L507.6,556.6 L503.5,552.4 L498.5,548.3 L494.4,545 L496.6,542.9 L495.8,536.3 L493.3,530.5 L495,525.5 L499.9,522.2 L505.7,520.6 L508.2,519.8 L509,525.5 L511.5,531.3 L514.8,528 L517.2,526.4 L520.5,530.5 L523.9,537.1 L528,543.7 L533.8,550.3 L539.5,554.4 L547,558.6 L554.4,562.7 L561,566.8 L567.6,571 L574.2,575.1 L579.2,577.6 L580.8,583.3 L581.6,589.9 L580.8,596.6 L582.5,602.3 L585.8,607.3 L589.1,610.6 L592.4,611.4 L602,600 L615,590 L630,583 L645,580 L658,578 L663,579 L663.6,581.4 L667,584.5 L670.5,585 L667.5,590 L665,594.8 L665,595.4 L668.3,603.7 L673.3,602.8 L674.1,607.8 L676.6,612.7 L679,617.7 L676.6,617.7 L673.3,621 L676.6,622.7 L680.7,626 L684.8,630.9 L689.8,635.9 L688.1,639.2 L692.2,640.8 L693.1,644.1 L698,640 L700.5,642.5 L705.5,641.6 L711.2,642.5 L714.5,645.8 L721.1,644.9 L726.1,644.1 L728.6,639.2 L731.1,634.2 L737.7,633.4 L744.3,633.4 L749.2,635 L754.2,637.5 L759.1,639.2 L765.7,636.7 L770.7,632.6 L775.6,626.8 L780.6,622.7 L785.5,621.8 L790.5,619.4 L794.6,615.2 L797.1,616.1 L796.3,621 L797.1,626.8 L800.4,630.1 L802.9,627.6 L803.7,621 L804.5,614.4 L810.3,613.6 L816.1,611.9 L820.2,607.8 L820.2,535.7 L815.3,535.7 L810.3,538.2 L805.4,542.3 L800.4,543.1 L795.4,542.3 L789.7,543.1 L783.9,540.6 L780.6,543.9 L777.3,539.8 L774,538.2 L770.7,540.6 L765.7,540.6 L761.6,537.3 L757.5,539 L750.9,540.6 L744.3,542.3 L737.7,545.6 L732.7,549.7 L727.7,554.7 L722.8,559.6 L719.5,563.8 L712.9,566.2 L706.3,567.1 L700.5,568.7 L695.5,570.4 L688.1,567.9 L682.3,563.8 L679,559.6 L674.9,555.5 L673.3,552.2 L676.6,545.6 L677.4,539 L680.7,535.7 L681.5,529.1 L680.7,522.5 L681.5,515.9 L680.7,511.7 L686.5,509.3 L689.8,504.3 L688.9,499.4 L691.4,494.4 L693.9,487.8 L695.5,481.2 L699.7,477.9 L703,477.1 L705.5,482.8 L709.6,481.2 L714.5,479.5 L721.1,479.5 L727.7,480.4 L724.4,485.3 L721.1,489.4 L717.8,493.6 L722.8,494.4 L729.4,496.1 L731.9,502.7 L736,504.3 L741,502.7 L744.3,496.9 L749.2,493.6 L752.5,488.6 L757.5,487 L762.4,486.1 L767.4,485.3 L774,487.8 L780.6,488.6 L787.2,491.1 L793.8,492.7 L800.4,495.2 L807,497.7 L813.6,499.4 L820.2,499.4 L820.2,95 L703.8,95 L703,97.4 L701.4,101.6 L698.9,105.7 L700.5,109 L696.4,110.6 L698.1,114.8 L699.7,119.7 L698.9,125.5 L695.6,128 L690.6,127.2 L685.7,124.7 L682.4,121.4 L684,116.4 L687.3,112.3 L685.7,109 L680.7,106.5 L674.9,106.5 L669.2,107.3 L663.4,110.6 L665.9,112.3 L670.8,113.9 L674.1,118.1 L676.6,123.9 L679.1,128 L682.4,132.1 L684.9,136.2 L687.3,141.2 L689,146.1 L685.7,145.3 L680.7,146.1 L675.8,147 L674.1,151.9 L672.5,157.7 L670,162.7 L668.3,167.6 L671.6,171.7 L675.8,175 L673.3,178.3 L667.5,177.5 L659.3,176.7 L653.5,177.5 L651.8,181.6 L654.3,185.8 L659.3,186.6 L664.2,189.1 L665.9,193.2 L663.4,196.5 L656.8,195.7 L649.4,193.2 L643.6,191.6 L639.4,185.8 L637,180 L635.3,174.2 L631.2,170.1 L624.6,167.6 L621.3,164.3 L615.5,161.8 L613,157.7 L618,160.2 L624.6,161 L632.8,161.8 L641.1,162.7 L649.4,161.8 L657.6,159.4 L663.4,156.1 L666.7,151.1 L667.5,144.5 L665.9,137.9 L661.7,132.1 L656,128.8 L647.7,127.2 L639.4,125.5 L631.2,122.2 L622.9,120.5 L615.5,119.7 L608.9,121.4 L607.2,125.5 L605.6,122.2 L600.6,121.4 L602.3,118.9 L598.2,116.4 L593.2,117.2 L589.9,120.5 L586,124 L580,137 L585,155 L592,175 L600,195 L610,215 L615,240 L610,262 L613.7,266.1 L617,265.2 L620.3,268.5 L624.4,271 L631.8,271.8 L626.1,274.3 L621.1,276 L617.8,279.3 L617,284.2 L609.5,285 L602.9,285.9 L596.3,287.5 L589.7,290 L584.8,292.5 L582.3,295.8 L581.5,300.7 L583.1,305.7 L586.4,309 L590.5,307.3 L593,312.3 L593.9,317.2 L592.2,322.2 L590.5,327.1 L587.2,328 L583.1,323.8 L579.8,320.5 L575.7,321.4 L572.4,323.8 L569.1,328.8 L567.4,335.4 L567.4,345 L568.7,349.5 L570.4,356.1 L569.5,361.1 L567.1,364.4 L562.1,367.7 L559.6,371 L557.2,376 L553,376.8 L550.5,373.5 L547.2,371.8 L541.5,372.7 L534.9,374.3 L526.6,378.4 L520,382.6 L519.1,384.5 L515,388 L511.2,390.3 L505,400 L470,410 L446,401 L440.6,393.6 L434.9,393.6 L426.6,395.2 L421.5,396.6 L418.5,400.5 L417.2,405 L415.3,410 L411.4,414.8 L406.4,419.8 L403.1,423.9 L398.2,427.2 L393.2,430.5 L395,440 L370,500 L345,540 L333,547Z M267.1,159.6 L271.4,156.8 L274.6,155.7 L278.2,151.4 L281.1,156.4 L284.3,153.9 L287.9,152.9 L289.6,160.4 L291.4,155.7 L294.3,158.2 L297.1,157.1 L300,158.2 L303.6,154.6 L307.1,157.9 L309.3,160.4 L314.3,160 L311.4,164.3 L310.4,165.7 L312.5,168.6 L314.3,172.9 L315.7,176.4 L314.6,180 L312.1,182.9 L309.3,184.6 L306.4,186.1 L304.3,188.6 L300,189.6 L294.3,190.4 L288.6,191.4 L282.1,192.1 L276.4,192.5 L274.6,194.3 L267.9,193.9 L264.3,190.7 L260.7,187.1 L259.3,183.2 L257.1,179.3 L252.9,178.2 L250,177.5 L246.4,176.1 L245.3,172.7 L254.4,170.4 L255.5,163.6 L246.4,160.2 L246.4,156.7 L259,157.9 L263.5,155.6 L261.2,152.2 L252.1,149.9 L248.7,145.4 L252.1,144.7 L255.5,141.9 L256.7,139.7 L260.6,140.8 L264.7,137.8 L265.8,141.9 L270.4,139.7 L271,151Z M340.3,239.3 L343,237.4 L345.8,239 L344.3,242.2 L341,242.2Z M342.3,244.6 L344,245.2 L343.3,247 L342,246.3Z M341.2,248.5 L342.8,249 L342.2,251 L341,250.2Z M280.6,357.9 L287.4,353.3 L296.5,351 L301.1,346.5 L307.9,345.4 L312.5,347.6 L311.3,351 L305.7,352.2 L302.2,357.9 L302.2,362.4 L305.7,364.7 L311.3,368.1 L315.9,368.1 L317,373.8 L318.2,380.7 L317,387.5 L314.8,394.3 L307.9,396.6 L301.1,397.7 L294.3,400 L285.2,401.1 L276,401.1 L270.4,398.9 L268.1,392 L272.6,388.6 L278.3,386.3 L282.9,382.9 L278.3,380.7 L279.5,375 L284,371.5 L278.3,369.3 L279.5,363.6Z M444,598.7 L448.2,596.2 L454.8,592.9 L460.5,593.7 L463,599.5 L463.9,606.1 L462.2,614.4 L461.4,622.6 L458.1,626.7 L454.8,625.9 L452.3,630 L448.2,629.2 L445.7,624.3 L446.5,616 L444.9,607.7Z M497.7,644.1 L501,640.8 L507.6,641.6 L515.9,642.4 L524.1,641.6 L530.7,639.9 L536.5,639.1 L535.7,644.1 L533.2,650.7 L532.4,657.3 L534,662.2 L530.7,664.7 L524.1,663.9 L519.2,660.6 L512.6,657.3 L506,652.3 L500.2,649.9Z M519.2,675.4 L522.5,674.6 L525.8,677.1 L524.1,679.6 L520.8,677.9Z M467.2,567.3 L471.3,566.5 L471,568.9 L467.6,569.4Z M370.6,613.7 L377.4,609.1 L385.4,611.4 L384.2,617.1 L379.7,620.5 L374,617.1Z M389.9,609.1 L394.5,608 L396.3,611.4 L392.2,612.5Z M355.8,622.8 L360.3,620.5 L360.8,625.1 L358,628.5 L355.8,627.3Z M757.5,655.7 L762.4,649.9 L769,648.2 L775.6,646.6 L780.6,640.8 L782.6,640 L780.6,644.9 L778.1,649.9 L778.9,651.6 L772.3,655.7 L767.4,659.8 L761.6,661.5 L758.3,659Z M808.7,685.7 L811.1,680.4 L816.9,681.3 L820.2,683.8 L820.2,685.7Z M569.9,299.9 L575.7,299.1 L578.2,302.4 L574.9,304.9 L571.6,303.2Z M571.6,309 L576.5,306.5 L581.5,305.7 L580.6,309.8 L576.5,312.3 L573.2,315.6 L571.6,313.1Z M548,282.6 L550.4,281.4 L552.4,283.9 L549.8,286Z M554.6,285.2 L556.1,284.9 L556.4,286.4 L554.9,286.7Z M686.2,95 L688.2,94.5 L690.3,95.1 L688.3,96.1Z M334.3,447.3 L336.3,446.5 L337.2,448.9 L335,449.8Z M338.8,451.4 L340.8,451.1 L341.3,453.4 L339.3,453.7Z" fill="url(#hatch)" fill-rule="evenodd"/>
<path d="M243,553.3 L251,552.2 L255.5,555.6 L262.4,557.9 L269.2,559 L271.5,564.7 L266.9,569.3 L263.5,576.1 L261.2,582.9 L256.7,589.8 L253.3,594.3 L252.1,601.1 L253.3,608 L249.9,614.8 L246.4,621.6 L244.2,627.3 L243,632.6 M403.1,424.7 L408.1,426.4 L413,425.5 L417.2,428 L420.5,427.2 L423.8,430.5 L425.4,434.6 L428.2,434.6 M427.1,447.8 L424.6,451.1 L424.3,456.1 L427.1,458.6 M434.5,516.4 L440.3,518 L445.2,513.9 L449.4,510.6 L453.5,516.4 L457.6,518 L461.7,510.6 L465.9,508.1 L470,508.9 L471.6,504.8 L469.2,501.5 L463.4,498.2 M508.2,519.8 L509.8,517.3 L509,514 M510.6,524.7 L516.4,523.1 L522.2,521.4 L525.5,518.1 L529.6,516.5 L531.3,512.3 L535.4,509 M533.8,530.5 L532.9,534.6 L535.4,539.6 L538.7,544.5 L541.2,549.5 L545.3,553.6 L550.3,556.9 L556.1,560.2 L561.8,563.5 L566,567.7 L567.6,561.1 L569.3,556.1 L571.7,552.8 L574.2,551.1 L576.7,547 L575.9,542.1 L573.4,535.5 L572.6,530.5 L570.9,528 L562.7,527.2 L554.4,526.4 L546.1,526.4 L539.5,528 L533.8,530.5 M568.4,518.1 L570.9,521.4 L572.6,525.5 L570.9,528 M586.6,512.3 L590.7,518.1 L595.7,523.1 L597.3,527.2 L603.9,528 L609.7,530.5 L612.2,534.6 L613.8,537.9 M613.8,537.9 L620.4,539.6 L627.1,538.8 L635.3,537.9 L643.6,537.1 L650,534.6 M613.8,537.9 L612.2,542.9 L615.5,547.8 L618,552 L617.1,556.9 L614.7,561.1 L613.8,566 M613.8,566 L608.9,567.7 L603.9,569.3 L598.2,571 L594.9,574.3 M613.8,566 L618.8,570.1 L622.1,574.3 L622.9,578.4 M594.9,574.3 L593.2,579.2 L594,585 L597.3,589.9 L600.6,592.4 M589.1,555.3 L593.2,553.6 L599,557.7 L603.9,561.1 L604.8,565.2 L603.9,569.3 M589.1,555.3 L587.4,560.2 L585.8,564.4 L589.1,568.5 L592.4,571.8 L594.9,574.3 M571.7,552.8 L577.5,556.1 L582.5,559.4 L587.4,560.2 M585.8,564.4 L581.6,566 L580,570.1 L579.2,577.6 M650,534.6 L656.1,530.2 L662.7,528.5 L669.4,528.5 L676,531 L680.9,531.8 M605,474 L613.2,473.2 L621.5,472.4 L628.1,474 L634.7,470.7 L640.5,467.4 L643.8,464.1 L647.1,463.3 M647.1,463.3 L651.2,469.1 L656.1,474 L661.1,479 L665.2,484.8 L667.7,490.5 L669.4,498 L671.8,502.9 L674.3,504.6 M647.1,463.3 L649.5,460 L654.5,458.3 L662.7,460 L667.7,461.7 L672.7,463.3 L676,468.3 L679.3,474 L683.4,479.8 L687.5,483.9 L681.7,486.4 L676.8,487.2 L676,493 L674.3,499.6 L674.3,504.6 M674.3,504.6 L680.9,504.6 L685.9,502.1 L688.3,502.9 L689.2,507.9 M663.6,567.3 L667.7,562.4 L672.7,559.9 L678.4,559.1 M519,434.6 L524.8,437.9 L531.4,439.5 L534.7,444.5 L539.7,444.5 L544.6,447.8 L551.2,449.4 L556.2,453.6 L560.3,456.1 M560.3,456.1 L566.1,454.4 L571.1,457.7 L576,459.4 L582.6,456.1 L589.2,455.2 L595.8,456.9 L600.8,457.7 M560.3,456.1 L556.2,459.4 L552.9,463.5 L549.6,466.8 L543.8,469.3 L542.2,470.9 M600.8,457.7 L599.1,462.7 L597.1,468.9 M600.8,457.7 L602.4,451.1 L605.7,442.8 L609.9,434.6 L610.7,428 L607.4,421.4 L604.1,414.8 M596.8,378.4 L599.3,385.9 L601.7,392.5 L602.6,398.2 L599.3,404 L601.7,409.8 L604.2,414.8 M604.2,414.8 L612.5,410.6 L622.4,408.2 L632.3,407.3 L642.2,408.2 L652.1,407.3 L657.1,404.9 L663.7,405.7 L670.3,405.7 L674.4,403.2 L676.9,397.4 L680,392.5 M680.1,390.9 L689.2,385.2 L698.3,381.8 L705.2,387.5 L708.6,396.6 L717.7,396.6 L724.5,403.4 L727.9,405.7 L735.9,403.4 L743.9,400 L753,403.4 L766.6,403 L774.6,403.4 L775.8,412.5 L780.3,421.6 L780.3,430.8 L771.2,435.3 L767.8,444.4 M557.2,376 L569.5,375.1 L582.7,374.3 L588.5,373.5 M569.5,361.1 L572.8,362.7 L579.4,361.9 L585.2,363.6 L587.7,367.7 L588.5,373.5 M588.5,373.5 L593.5,375.1 L596.8,378.4 M568.7,347.1 L574.5,342.1 L582.7,341.3 L592.7,340.5 L600.9,338.8 L604.2,340.5 L612.5,342.9 L619.1,345.4 M631.5,335.5 L625.7,341.3 L619.1,345.4 M619.1,345.4 L619.9,350.4 L620.7,354.5 L617.4,358.6 L615.8,364.4 L614.1,370.2 L609.2,374.3 L604.2,377.6 L596.8,378.4 M631.5,335.5 L637.2,337.2 L642.2,339.6 L647.1,337.2 L652.1,336.3 L657.1,338.8 L660.4,344.6 L662,349.5 L667,354.5 L671.9,359.4 L675.2,363.6 L680,364.4 L683.5,368.1 L681.2,373.8 L673.3,375 L675.5,382.9 L680.1,390.9 M617,284.2 L616.1,292.5 L615.3,299.1 L617.8,305.7 L621.1,310.6 L620.3,315.6 M593.9,313.9 L599.6,311.5 L606.2,313.1 L612.8,316.4 L620.3,315.6 M620.3,315.6 L623.6,320.5 L626.9,327.1 L630.2,332.9 L631.8,337.1 M761.8,479.6 L761.3,485 M764.1,479.9 L765,483.4 M702.6,467.6 L705,472.6 L706.3,476.2 L703.3,477.4 M706.3,476.2 L713.2,474.6 M808.7,496.9 L811.1,494.4 L820.2,492.7" fill="none" stroke="#d6d6d6" stroke-opacity="0.75" stroke-width="5.4" stroke-linejoin="round" stroke-linecap="round"/>
<clipPath id="seaclip"><path d="M739.8,474.3 L741.4,471.1 L743,468.4 L748.4,463 L755.4,458.8 L762.9,451.8 L768.2,448 L773.6,444.3 L778.4,441.1 L781.1,443.8 L777.9,448.6 L774.6,452.9 L768.2,456.1 L770.4,459.3 L778.4,462.5 L773.6,464.6 L771.4,470 L770.4,475.4 L763.9,478.6 L756.4,480.7 L751.1,483.4 L746.8,481.8 L742.5,478.6Z M674.9,587.2 L678.2,580.5 L683.2,576.4 L689.8,574.8 L695.5,570.6 L697.2,575.6 L706.3,574.8 L700.5,578.1 L696.4,582.2 L689.8,583 L683.2,583.9 L679.9,585.5Z M674.9,586.7 L670,589.3 L665.8,593.3 L665,594.9 L666.3,595.2 L670.8,591.3 L675.2,588.1Z"/></clipPath>
<path d="M739.8,474.3 L741.4,471.1 L743,468.4 L748.4,463 L755.4,458.8 L762.9,451.8 L768.2,448 L773.6,444.3 L778.4,441.1 L781.1,443.8 L777.9,448.6 L774.6,452.9 L768.2,456.1 L770.4,459.3 L778.4,462.5 L773.6,464.6 L771.4,470 L770.4,475.4 L763.9,478.6 L756.4,480.7 L751.1,483.4 L746.8,481.8 L742.5,478.6Z M674.9,587.2 L678.2,580.5 L683.2,576.4 L689.8,574.8 L695.5,570.6 L697.2,575.6 L706.3,574.8 L700.5,578.1 L696.4,582.2 L689.8,583 L683.2,583.9 L679.9,585.5Z M674.9,586.7 L670,589.3 L665.8,593.3 L665,594.9 L666.3,595.2 L670.8,591.3 L675.2,588.1Z" fill="#fff"/>
<path d="M739.8,474.3 L741.4,471.1 L743,468.4 L748.4,463 L755.4,458.8 L762.9,451.8 L768.2,448 L773.6,444.3 L778.4,441.1 L781.1,443.8 L777.9,448.6 L774.6,452.9 L768.2,456.1 L770.4,459.3 L778.4,462.5 L773.6,464.6 L771.4,470 L770.4,475.4 L763.9,478.6 L756.4,480.7 L751.1,483.4 L746.8,481.8 L742.5,478.6Z M674.9,587.2 L678.2,580.5 L683.2,576.4 L689.8,574.8 L695.5,570.6 L697.2,575.6 L706.3,574.8 L700.5,578.1 L696.4,582.2 L689.8,583 L683.2,583.9 L679.9,585.5Z M674.9,586.7 L670,589.3 L665.8,593.3 L665,594.9 L666.3,595.2 L670.8,591.3 L675.2,588.1Z" fill="none" stroke="#d6d6d6" stroke-width="5.4" stroke-linejoin="round" clip-path="url(#seaclip)"/>
<path d="M739.8,474.3 L741.4,471.1 L743,468.4 L748.4,463 L755.4,458.8 L762.9,451.8 L768.2,448 L773.6,444.3 L778.4,441.1 L781.1,443.8 L777.9,448.6 L774.6,452.9 L768.2,456.1 L770.4,459.3 L778.4,462.5 L773.6,464.6 L771.4,470 L770.4,475.4 L763.9,478.6 L756.4,480.7 L751.1,483.4 L746.8,481.8 L742.5,478.6Z M674.9,587.2 L678.2,580.5 L683.2,576.4 L689.8,574.8 L695.5,570.6 L697.2,575.6 L706.3,574.8 L700.5,578.1 L696.4,582.2 L689.8,583 L683.2,583.9 L679.9,585.5Z M674.9,586.7 L670,589.3 L665.8,593.3 L665,594.9 L666.3,595.2 L670.8,591.3 L675.2,588.1Z" fill="none" stroke="#7e7e7e" stroke-width="1.3" stroke-linejoin="round"/>
<path d="M517.2,528.9 L519.7,528 L523,534.6 L525.5,541.2 L523.9,542.1 L520.5,536.3 L518.1,532.2Z M542.8,556.9 L547,556.4 L552.7,560.2 L557.7,564.4 L556.1,566 L550.3,562.7 L545.3,560.2Z" fill="#b4b4b4" stroke="#7e7e7e" stroke-width="1" stroke-linejoin="round"/>
<path d="M330.7,546.5 L321.6,545.4 L310.2,541.9 L301.1,539.7 L289.7,536.2 L278.3,532.8 L269.2,530.5 L260.1,527.1 L253.3,529.4 L246.4,531.7 L243,536.2 L244.2,543.1 L245.3,549.9 L243,553.3 L241.9,562.4 L239.6,573.8 L235.1,582.9 L230.5,589.8 L224.8,596.6 L222.5,602.3 L225.9,605.7 L229.4,609.1 L227.1,617.1 L225.9,623.9 L223.7,629.6 L232.8,631.9 L243,632.6 L251,635.3 L254.4,643.3 L257.8,651.2 L261.2,655.8 L266.9,653.5 L273.8,649 L282.9,647.8 L294.3,649 L305.7,652.4 L311.3,651.2 L315.9,644.4 L321.6,642.1 L328.4,637.6 L333,630.8 L338.7,626.2 L342.1,621.6 L339.8,614.8 L340.9,608 L346.6,601.1 L352.3,594.3 L354.6,590.9 L360.3,588.6 L369.4,585.2 L378.5,580.7 L385.4,577.2 L385.4,571.5 L386,562 L395,546 L430,546 L438,547 L441.6,546.5 L449.6,541.9 L458.7,540.8 L466.7,546.5 L467.2,549.1 L470.5,554.9 L471.3,561.5 L473.8,567.3 L479.5,572.2 L485.3,578 L491.1,583.8 L496.1,588.8 L501,592.9 L507.6,593.7 L512.6,597 L517.5,600.3 L522.5,602.8 L525.8,602 L528.2,606.9 L533.2,610.2 L536.5,614.4 L539,619.3 L541.5,625.1 L543.9,630.9 L540.6,635 L538.2,639.9 L538.2,644.1 L542.3,644.1 L545.6,639.1 L548.1,632.5 L553,629.2 L556.3,625.1 L553.8,620.1 L548.9,617.7 L547.2,612.7 L549.7,606.9 L553,602.8 L558,603.6 L562.9,606.9 L566.2,611.1 L570.4,609.4 L569.5,605.3 L565.4,602 L558.8,597.8 L552.2,594.5 L545.6,591.2 L539.8,587.9 L539,583.8 L542.3,580.5 L535.7,580.5 L529.1,578 L523.3,575.5 L517.5,572.2 L513.4,567.3 L510.9,561.5 L507.6,556.6 L503.5,552.4 L498.5,548.3 L494.4,545 L496.6,542.9 L495.8,536.3 L493.3,530.5 L495,525.5 L499.9,522.2 L505.7,520.6 L508.2,519.8 L509,525.5 L511.5,531.3 L514.8,528 L517.2,526.4 L520.5,530.5 L523.9,537.1 L528,543.7 L533.8,550.3 L539.5,554.4 L547,558.6 L554.4,562.7 L561,566.8 L567.6,571 L574.2,575.1 L579.2,577.6 L580.8,583.3 L581.6,589.9 L580.8,596.6 L582.5,602.3 L585.8,607.3 L589.1,610.6 L592.4,611.4 L602,600 L615,590 L630,583 L645,580 L658,578 L663,579 L663.6,581.4 L667,584.5 L670.5,585 L667.5,590 L665,594.8 L665,595.4 L668.3,603.7 L673.3,602.8 L674.1,607.8 L676.6,612.7 L679,617.7 L676.6,617.7 L673.3,621 L676.6,622.7 L680.7,626 L684.8,630.9 L689.8,635.9 L688.1,639.2 L692.2,640.8 L693.1,644.1 L698,640 L700.5,642.5 L705.5,641.6 L711.2,642.5 L714.5,645.8 L721.1,644.9 L726.1,644.1 L728.6,639.2 L731.1,634.2 L737.7,633.4 L744.3,633.4 L749.2,635 L754.2,637.5 L759.1,639.2 L765.7,636.7 L770.7,632.6 L775.6,626.8 L780.6,622.7 L785.5,621.8 L790.5,619.4 L794.6,615.2 L797.1,616.1 L796.3,621 L797.1,626.8 L800.4,630.1 L802.9,627.6 L803.7,621 L804.5,614.4 L810.3,613.6 L816.1,611.9 L820.2,607.8 L820.2,535.7 L815.3,535.7 L810.3,538.2 L805.4,542.3 L800.4,543.1 L795.4,542.3 L789.7,543.1 L783.9,540.6 L780.6,543.9 L777.3,539.8 L774,538.2 L770.7,540.6 L765.7,540.6 L761.6,537.3 L757.5,539 L750.9,540.6 L744.3,542.3 L737.7,545.6 L732.7,549.7 L727.7,554.7 L722.8,559.6 L719.5,563.8 L712.9,566.2 L706.3,567.1 L700.5,568.7 L695.5,570.4 L688.1,567.9 L682.3,563.8 L679,559.6 L674.9,555.5 L673.3,552.2 L676.6,545.6 L677.4,539 L680.7,535.7 L681.5,529.1 L680.7,522.5 L681.5,515.9 L680.7,511.7 L686.5,509.3 L689.8,504.3 L688.9,499.4 L691.4,494.4 L693.9,487.8 L695.5,481.2 L699.7,477.9 L703,477.1 L705.5,482.8 L709.6,481.2 L714.5,479.5 L721.1,479.5 L727.7,480.4 L724.4,485.3 L721.1,489.4 L717.8,493.6 L722.8,494.4 L729.4,496.1 L731.9,502.7 L736,504.3 L741,502.7 L744.3,496.9 L749.2,493.6 L752.5,488.6 L757.5,487 L762.4,486.1 L767.4,485.3 L774,487.8 L780.6,488.6 L787.2,491.1 L793.8,492.7 L800.4,495.2 L807,497.7 L813.6,499.4 L820.2,499.4 L820.2,95 L703.8,95 L703,97.4 L701.4,101.6 L698.9,105.7 L700.5,109 L696.4,110.6 L698.1,114.8 L699.7,119.7 L698.9,125.5 L695.6,128 L690.6,127.2 L685.7,124.7 L682.4,121.4 L684,116.4 L687.3,112.3 L685.7,109 L680.7,106.5 L674.9,106.5 L669.2,107.3 L663.4,110.6 L665.9,112.3 L670.8,113.9 L674.1,118.1 L676.6,123.9 L679.1,128 L682.4,132.1 L684.9,136.2 L687.3,141.2 L689,146.1 L685.7,145.3 L680.7,146.1 L675.8,147 L674.1,151.9 L672.5,157.7 L670,162.7 L668.3,167.6 L671.6,171.7 L675.8,175 L673.3,178.3 L667.5,177.5 L659.3,176.7 L653.5,177.5 L651.8,181.6 L654.3,185.8 L659.3,186.6 L664.2,189.1 L665.9,193.2 L663.4,196.5 L656.8,195.7 L649.4,193.2 L643.6,191.6 L639.4,185.8 L637,180 L635.3,174.2 L631.2,170.1 L624.6,167.6 L621.3,164.3 L615.5,161.8 L613,157.7 L618,160.2 L624.6,161 L632.8,161.8 L641.1,162.7 L649.4,161.8 L657.6,159.4 L663.4,156.1 L666.7,151.1 L667.5,144.5 L665.9,137.9 L661.7,132.1 L656,128.8 L647.7,127.2 L639.4,125.5 L631.2,122.2 L622.9,120.5 L615.5,119.7 L608.9,121.4 L607.2,125.5 L605.6,122.2 L600.6,121.4 L602.3,118.9 L598.2,116.4 L593.2,117.2 L589.9,120.5 L586,124 L580,137 L585,155 L592,175 L600,195 L610,215 L615,240 L610,262 L613.7,266.1 L617,265.2 L620.3,268.5 L624.4,271 L631.8,271.8 L626.1,274.3 L621.1,276 L617.8,279.3 L617,284.2 L609.5,285 L602.9,285.9 L596.3,287.5 L589.7,290 L584.8,292.5 L582.3,295.8 L581.5,300.7 L583.1,305.7 L586.4,309 L590.5,307.3 L593,312.3 L593.9,317.2 L592.2,322.2 L590.5,327.1 L587.2,328 L583.1,323.8 L579.8,320.5 L575.7,321.4 L572.4,323.8 L569.1,328.8 L567.4,335.4 L567.4,345 L568.7,349.5 L570.4,356.1 L569.5,361.1 L567.1,364.4 L562.1,367.7 L559.6,371 L557.2,376 L553,376.8 L550.5,373.5 L547.2,371.8 L541.5,372.7 L534.9,374.3 L526.6,378.4 L520,382.6 L519.1,384.5 L515,388 L511.2,390.3 L505,400 L470,410 L446,401 L440.6,393.6 L434.9,393.6 L426.6,395.2 L421.5,396.6 L418.5,400.5 L417.2,405 L415.3,410 L411.4,414.8 L406.4,419.8 L403.1,423.9 L398.2,427.2 L393.2,430.5 L395,440 L370,500 L345,540 L333,547Z M267.1,159.6 L271.4,156.8 L274.6,155.7 L278.2,151.4 L281.1,156.4 L284.3,153.9 L287.9,152.9 L289.6,160.4 L291.4,155.7 L294.3,158.2 L297.1,157.1 L300,158.2 L303.6,154.6 L307.1,157.9 L309.3,160.4 L314.3,160 L311.4,164.3 L310.4,165.7 L312.5,168.6 L314.3,172.9 L315.7,176.4 L314.6,180 L312.1,182.9 L309.3,184.6 L306.4,186.1 L304.3,188.6 L300,189.6 L294.3,190.4 L288.6,191.4 L282.1,192.1 L276.4,192.5 L274.6,194.3 L267.9,193.9 L264.3,190.7 L260.7,187.1 L259.3,183.2 L257.1,179.3 L252.9,178.2 L250,177.5 L246.4,176.1 L245.3,172.7 L254.4,170.4 L255.5,163.6 L246.4,160.2 L246.4,156.7 L259,157.9 L263.5,155.6 L261.2,152.2 L252.1,149.9 L248.7,145.4 L252.1,144.7 L255.5,141.9 L256.7,139.7 L260.6,140.8 L264.7,137.8 L265.8,141.9 L270.4,139.7 L271,151Z M340.3,239.3 L343,237.4 L345.8,239 L344.3,242.2 L341,242.2Z M342.3,244.6 L344,245.2 L343.3,247 L342,246.3Z M341.2,248.5 L342.8,249 L342.2,251 L341,250.2Z M280.6,357.9 L287.4,353.3 L296.5,351 L301.1,346.5 L307.9,345.4 L312.5,347.6 L311.3,351 L305.7,352.2 L302.2,357.9 L302.2,362.4 L305.7,364.7 L311.3,368.1 L315.9,368.1 L317,373.8 L318.2,380.7 L317,387.5 L314.8,394.3 L307.9,396.6 L301.1,397.7 L294.3,400 L285.2,401.1 L276,401.1 L270.4,398.9 L268.1,392 L272.6,388.6 L278.3,386.3 L282.9,382.9 L278.3,380.7 L279.5,375 L284,371.5 L278.3,369.3 L279.5,363.6Z M444,598.7 L448.2,596.2 L454.8,592.9 L460.5,593.7 L463,599.5 L463.9,606.1 L462.2,614.4 L461.4,622.6 L458.1,626.7 L454.8,625.9 L452.3,630 L448.2,629.2 L445.7,624.3 L446.5,616 L444.9,607.7Z M497.7,644.1 L501,640.8 L507.6,641.6 L515.9,642.4 L524.1,641.6 L530.7,639.9 L536.5,639.1 L535.7,644.1 L533.2,650.7 L532.4,657.3 L534,662.2 L530.7,664.7 L524.1,663.9 L519.2,660.6 L512.6,657.3 L506,652.3 L500.2,649.9Z M519.2,675.4 L522.5,674.6 L525.8,677.1 L524.1,679.6 L520.8,677.9Z M467.2,567.3 L471.3,566.5 L471,568.9 L467.6,569.4Z M370.6,613.7 L377.4,609.1 L385.4,611.4 L384.2,617.1 L379.7,620.5 L374,617.1Z M389.9,609.1 L394.5,608 L396.3,611.4 L392.2,612.5Z M355.8,622.8 L360.3,620.5 L360.8,625.1 L358,628.5 L355.8,627.3Z M757.5,655.7 L762.4,649.9 L769,648.2 L775.6,646.6 L780.6,640.8 L782.6,640 L780.6,644.9 L778.1,649.9 L778.9,651.6 L772.3,655.7 L767.4,659.8 L761.6,661.5 L758.3,659Z M808.7,685.7 L811.1,680.4 L816.9,681.3 L820.2,683.8 L820.2,685.7Z M569.9,299.9 L575.7,299.1 L578.2,302.4 L574.9,304.9 L571.6,303.2Z M571.6,309 L576.5,306.5 L581.5,305.7 L580.6,309.8 L576.5,312.3 L573.2,315.6 L571.6,313.1Z M548,282.6 L550.4,281.4 L552.4,283.9 L549.8,286Z M554.6,285.2 L556.1,284.9 L556.4,286.4 L554.9,286.7Z M686.2,95 L688.2,94.5 L690.3,95.1 L688.3,96.1Z M334.3,447.3 L336.3,446.5 L337.2,448.9 L335,449.8Z M338.8,451.4 L340.8,451.1 L341.3,453.4 L339.3,453.7Z" fill="none" stroke="#7e7e7e" stroke-width="1.3" stroke-linejoin="round"/>
<path d="M243,553.3 L251,552.2 L255.5,555.6 L262.4,557.9 L269.2,559 L271.5,564.7 L266.9,569.3 L263.5,576.1 L261.2,582.9 L256.7,589.8 L253.3,594.3 L252.1,601.1 L253.3,608 L249.9,614.8 L246.4,621.6 L244.2,627.3 L243,632.6 M403.1,424.7 L408.1,426.4 L413,425.5 L417.2,428 L420.5,427.2 L423.8,430.5 L425.4,434.6 L428.2,434.6 M427.1,447.8 L424.6,451.1 L424.3,456.1 L427.1,458.6 M434.5,516.4 L440.3,518 L445.2,513.9 L449.4,510.6 L453.5,516.4 L457.6,518 L461.7,510.6 L465.9,508.1 L470,508.9 L471.6,504.8 L469.2,501.5 L463.4,498.2 M508.2,519.8 L509.8,517.3 L509,514 M510.6,524.7 L516.4,523.1 L522.2,521.4 L525.5,518.1 L529.6,516.5 L531.3,512.3 L535.4,509 M533.8,530.5 L532.9,534.6 L535.4,539.6 L538.7,544.5 L541.2,549.5 L545.3,553.6 L550.3,556.9 L556.1,560.2 L561.8,563.5 L566,567.7 L567.6,561.1 L569.3,556.1 L571.7,552.8 L574.2,551.1 L576.7,547 L575.9,542.1 L573.4,535.5 L572.6,530.5 L570.9,528 L562.7,527.2 L554.4,526.4 L546.1,526.4 L539.5,528 L533.8,530.5 M568.4,518.1 L570.9,521.4 L572.6,525.5 L570.9,528 M586.6,512.3 L590.7,518.1 L595.7,523.1 L597.3,527.2 L603.9,528 L609.7,530.5 L612.2,534.6 L613.8,537.9 M613.8,537.9 L620.4,539.6 L627.1,538.8 L635.3,537.9 L643.6,537.1 L650,534.6 M613.8,537.9 L612.2,542.9 L615.5,547.8 L618,552 L617.1,556.9 L614.7,561.1 L613.8,566 M613.8,566 L608.9,567.7 L603.9,569.3 L598.2,571 L594.9,574.3 M613.8,566 L618.8,570.1 L622.1,574.3 L622.9,578.4 M594.9,574.3 L593.2,579.2 L594,585 L597.3,589.9 L600.6,592.4 M589.1,555.3 L593.2,553.6 L599,557.7 L603.9,561.1 L604.8,565.2 L603.9,569.3 M589.1,555.3 L587.4,560.2 L585.8,564.4 L589.1,568.5 L592.4,571.8 L594.9,574.3 M571.7,552.8 L577.5,556.1 L582.5,559.4 L587.4,560.2 M585.8,564.4 L581.6,566 L580,570.1 L579.2,577.6 M650,534.6 L656.1,530.2 L662.7,528.5 L669.4,528.5 L676,531 L680.9,531.8 M605,474 L613.2,473.2 L621.5,472.4 L628.1,474 L634.7,470.7 L640.5,467.4 L643.8,464.1 L647.1,463.3 M647.1,463.3 L651.2,469.1 L656.1,474 L661.1,479 L665.2,484.8 L667.7,490.5 L669.4,498 L671.8,502.9 L674.3,504.6 M647.1,463.3 L649.5,460 L654.5,458.3 L662.7,460 L667.7,461.7 L672.7,463.3 L676,468.3 L679.3,474 L683.4,479.8 L687.5,483.9 L681.7,486.4 L676.8,487.2 L676,493 L674.3,499.6 L674.3,504.6 M674.3,504.6 L680.9,504.6 L685.9,502.1 L688.3,502.9 L689.2,507.9 M663.6,567.3 L667.7,562.4 L672.7,559.9 L678.4,559.1 M519,434.6 L524.8,437.9 L531.4,439.5 L534.7,444.5 L539.7,444.5 L544.6,447.8 L551.2,449.4 L556.2,453.6 L560.3,456.1 M560.3,456.1 L566.1,454.4 L571.1,457.7 L576,459.4 L582.6,456.1 L589.2,455.2 L595.8,456.9 L600.8,457.7 M560.3,456.1 L556.2,459.4 L552.9,463.5 L549.6,466.8 L543.8,469.3 L542.2,470.9 M600.8,457.7 L599.1,462.7 L597.1,468.9 M600.8,457.7 L602.4,451.1 L605.7,442.8 L609.9,434.6 L610.7,428 L607.4,421.4 L604.1,414.8 M596.8,378.4 L599.3,385.9 L601.7,392.5 L602.6,398.2 L599.3,404 L601.7,409.8 L604.2,414.8 M604.2,414.8 L612.5,410.6 L622.4,408.2 L632.3,407.3 L642.2,408.2 L652.1,407.3 L657.1,404.9 L663.7,405.7 L670.3,405.7 L674.4,403.2 L676.9,397.4 L680,392.5 M680.1,390.9 L689.2,385.2 L698.3,381.8 L705.2,387.5 L708.6,396.6 L717.7,396.6 L724.5,403.4 L727.9,405.7 L735.9,403.4 L743.9,400 L753,403.4 L766.6,403 L774.6,403.4 L775.8,412.5 L780.3,421.6 L780.3,430.8 L771.2,435.3 L767.8,444.4 M557.2,376 L569.5,375.1 L582.7,374.3 L588.5,373.5 M569.5,361.1 L572.8,362.7 L579.4,361.9 L585.2,363.6 L587.7,367.7 L588.5,373.5 M588.5,373.5 L593.5,375.1 L596.8,378.4 M568.7,347.1 L574.5,342.1 L582.7,341.3 L592.7,340.5 L600.9,338.8 L604.2,340.5 L612.5,342.9 L619.1,345.4 M631.5,335.5 L625.7,341.3 L619.1,345.4 M619.1,345.4 L619.9,350.4 L620.7,354.5 L617.4,358.6 L615.8,364.4 L614.1,370.2 L609.2,374.3 L604.2,377.6 L596.8,378.4 M631.5,335.5 L637.2,337.2 L642.2,339.6 L647.1,337.2 L652.1,336.3 L657.1,338.8 L660.4,344.6 L662,349.5 L667,354.5 L671.9,359.4 L675.2,363.6 L680,364.4 L683.5,368.1 L681.2,373.8 L673.3,375 L675.5,382.9 L680.1,390.9 M617,284.2 L616.1,292.5 L615.3,299.1 L617.8,305.7 L621.1,310.6 L620.3,315.6 M593.9,313.9 L599.6,311.5 L606.2,313.1 L612.8,316.4 L620.3,315.6 M620.3,315.6 L623.6,320.5 L626.9,327.1 L630.2,332.9 L631.8,337.1 M761.8,479.6 L761.3,485 M764.1,479.9 L765,483.4 M702.6,467.6 L705,472.6 L706.3,476.2 L703.3,477.4 M706.3,476.2 L713.2,474.6 M808.7,496.9 L811.1,494.4 L820.2,492.7" fill="none" stroke="#7e7e7e" stroke-width="1.3" stroke-linejoin="round" stroke-linecap="round"/>
<path d="M480.3,307.3 L477,304 L475.3,300.7 L473.7,303.2 L471.2,307.3 L467.9,308.2 L466.2,310.6 L462.1,312.3 L461.3,314.8 L457.2,316.4 L456.3,318.1 L452.2,319.7 L450.5,321.4 L447.2,321.4 L444.8,322.2 L442.3,319.7 L440.6,318.9 L437.3,315.6 L435.7,313.9 L434.9,309.8 L434,307.3 L430.7,304 L429.9,302.4 L430.2,299.1 L429.1,297.4 L431.6,294.9 L431.6,290.8 L429.6,287.5 L429.9,284.2 L433.2,283.4 L430.7,281.7 L430.7,277.6 L428.3,274.3 L429.1,271 L433.2,271.3 L431.6,269.4 L431.6,266.1 L429.9,262.7 L430.7,259.4 L433.2,256.1 L434.9,252.8 L438.2,251.2 L441.5,248.7 L443.9,247.1 L446.4,244.6 L448.9,243.8 L451.4,241.3 L454.7,240.5 L457.2,237.2 L458.8,234.7 L461.3,232.2 L463.8,232.2 L467.1,230.5 L467.9,227.2 L469.5,224.8 L472.8,223.1 L474.5,219.8 L475.3,216.5 L477,213.2 L482.6,209.1 L492.4,192.4 L491.6,189.1 L494.9,187.5 L494,184.2 L497.3,182.5 L496.5,179.2 L499.8,177.6 L499,174.3 L502.3,172.6 L501.5,169.3 L504.8,168.5 L503.9,165.2 L507.2,163.5 L506.4,160.2 L509.7,159.4 L508.9,156.9 L512.2,156.9 L513,153.6 L510.5,152 L513.9,150.3 L515.5,147.8 L513,146.2 L511.4,143.7 L513.9,142.1 L513,139.6 L515.5,137.1 L518,138.8 L518.8,135.5 L517.2,133.8 L519.6,132.2 L521.3,133.8 L522.6,130.5 L521.3,128 L524.6,126.4 L526.2,128.9 L528.7,127.2 L530.4,130.5 L532,133.8 L533.2,129.7 L532,126.4 L534.5,123.9 L536.1,125.5 L537,121.4 L539.4,122.2 L541.1,118.9 L543.6,119.8 L544.4,123.9 L546.1,121.4 L545.2,117.3 L547.7,115.6 L549.4,118.9 L550.7,114.8 L549.4,112.3 L552.7,110.7 L554.3,113.2 L556,116.5 L557.6,113.2 L556.3,109 L559.3,106.6 L560.9,109.9 L562.2,114.8 L563.9,110.7 L562.6,106.6 L565.9,104.1 L567.8,107.4 L567.2,111.5 L569.2,108.2 L570.5,104.9 L573.3,105.2 L574.5,109 L576.6,111.5 L577.4,107.9 L580.7,106.9 L584,107.9 L587.3,109.9 L588.5,112.3 L586.5,114.5 L583.2,115.6 L579.9,118.1 L583.2,119.4 L587.3,119.8 L590.3,121.1 L591,125.1 L588.2,127.7 L585.4,130.2 L583.2,134.6 L581.6,130.5 L579.1,126.4 L575.8,123.1 L570.8,122.2 L566.7,124.7 L564.2,130.5 L563.4,136.3 L560.9,141.2 L557.6,144.5 L552.7,146.2 L549.4,147 L545.2,145.4 L541.1,142.9 L537,142.1 L535.3,146.2 L534.5,151.1 L529.5,152.8 L523.8,153.6 L521.3,157.7 L520.5,162.7 L515.5,164.4 L513,169.3 L510.5,175.9 L508.1,182.5 L504.8,187.5 L503.1,192.4 L500.9,209.9 L497.6,218.2 L492.7,226.4 L490.2,229.7 L487.7,234.7 L486.9,241.3 L486.1,249.5 L486.9,254.5 L488.5,261.1 L492.7,265.2 L491.8,269.4 L489.4,274.3 L490.2,279.3 L489.4,285.9 L486.1,292.5 L485.2,299.1 L482.7,305.7Z M489.9,165.2 L492.4,161.1 L496.5,158.6 L500.6,156.1 L503.9,152 L507.2,149.5 L509.7,150.3 L508.9,152.8 L506.4,153.6 L507.2,156.1 L503.9,156.9 L503.1,159.4 L499.8,160.2 L498.2,162.7 L494.9,162.7 L493.2,165.2 L490.7,167.2Z M371.5,103.5 L374,101.5 L378,100.3 L379,101.5 L376,103.5 L372.5,104.8Z" fill="#7a6b90" stroke="#3f3358" stroke-width="1.4" stroke-linejoin="round"/>
<path d="M537,142.1 L541.1,144.5 L546.1,148.7 L551,152 L553.5,157.7 L556,164.4 L559.3,171 L561.7,177.6 L562.6,185 L560.9,189.1 L556,200.7 L551,208.9 L551.3,213.2 L548,218.2 L545.5,223.1 L541.4,229.7 L537.2,234.7 L533.9,240.5 L532.3,244.6 L530.6,254.5 L529,263.6 L527.3,266.1 L529.8,272.7 L530.6,277.6 L534.8,280.9 L538.9,285 L543,290 L541.4,297.4 L535.6,300.7 L538.1,302.4 L535.6,307.3 L530.6,310.6 L528.2,315.6 L529,322.2 L528.2,328.8 L529,335.4 L527.3,345 L527.3,339.9 L524,346.5 L519.1,353.1 L510,358.1 L509.2,363 L502.6,365.5 L496,363 L495.1,349.8 L492.7,343.2 L489.4,336.6 L486.1,328.8 L483.6,322.2 L481.1,315.6 L480.3,307.3 L482.7,305.7 L485.2,299.1 L486.1,292.5 L489.4,285.9 L490.2,279.3 L489.4,274.3 L491.8,269.4 L492.7,265.2 L488.5,261.1 L486.9,254.5 L486.1,249.5 L486.9,241.3 L487.7,234.7 L490.2,229.7 L492.7,226.4 L497.6,218.2 L500.9,209.9 L503.1,192.4 L504.8,187.5 L508.1,182.5 L510.5,175.9 L513,169.3 L515.5,164.4 L520.5,162.7 L521.3,157.7 L523.8,153.6 L529.5,152.8 L534.5,151.1 L535.3,146.2Z M540.5,327.1 L543,323 L546.3,320.5 L548.8,321.4 L548,327.1 L545.5,332.1 L543,334.6 L540.9,332.1Z M529.8,332.1 L531,337.1 L530.3,342 L532.3,333.3 L529.8,343.2 L527.3,348.2 L528.2,339.9 L528.2,340.4Z" fill="#1f77b4" stroke="#0a3f75" stroke-width="1.4" stroke-linejoin="round"/>
<path d="M537,142.1 L541.1,142.9 L545.2,145.4 L549.4,147 L552.7,146.2 L557.6,144.5 L560.9,141.2 L563.4,136.3 L564.2,130.5 L566.7,124.7 L570.8,122.2 L575.8,123.1 L579.1,126.4 L581.6,130.5 L583.2,134.6 L582.4,137.9 L584.9,142.9 L587.3,147.8 L592.3,151.1 L593.9,156.1 L593.9,162.7 L595.6,169.3 L598.1,174.3 L601.4,179.2 L603.8,185 L607.1,190.8 L612.1,202.3 L615.4,210.6 L620.4,217.2 L625.3,223.8 L628.4,226.2 L626.1,239.9 L620.4,253.5 L613.6,264.9 L602.2,274 L590.8,279.7 L579.4,284.3 L580,285 L575.2,284.2 L570.3,282.6 L565.3,281.7 L562,279.3 L559.5,274.3 L560.4,266.1 L557.9,254.5 L555.4,242.9 L554.6,235.5 L557.1,233 L562.3,219.4 L568,210.3 L571.4,203.4 L565.9,194.1 L560.9,189.1 L562.6,185 L561.7,177.6 L559.3,171 L556,164.4 L553.5,157.7 L551,152 L546.1,148.7 L541.1,144.5Z" fill="#a25b6d" stroke="#632136" stroke-width="1.4" stroke-linejoin="round"/>
<path d="M474.9,327.3 L475.4,330.1 L473.5,334.7 L472.6,338.4 L472.1,342 L471.7,347.5 L470.3,353.1 L471.2,358.6 L469.4,361.3 L467.5,364.1 L466.6,367.8 L467.5,371.4 L468.5,375.1 L467.5,378.8 L460.2,375.1 L457,374.2 L456.5,373.3 L456.1,369.6 L455.2,365.9 L452.9,363.2 L451.5,359.9 L451.9,354.9 L452.9,349.4 L454.2,343 L455.2,340.7 L457.4,337.9 L461.1,336.5 L465.7,335.2 L468.5,332.9 L471.2,330.1Z M479.5,359.5 L483.2,359 L487.8,359.5 L491.4,359.5 L493.7,360.9 L492.3,363.2 L490,365 L491.4,367.8 L489.6,370 L492.8,371.4 L491.4,372.8 L487.8,374.2 L485,376 L482.2,376.9 L479.5,375.1 L480.9,372.3 L484.1,371.9 L483.2,369.6 L480.4,368.7 L479,365.9Z M472.1,363.2 L475.4,362.2 L477.6,364.1 L477.2,367.8 L474.9,370 L472.1,368.7 L471.2,365.9Z M512.5,366.8 L514.4,365.9 L516.7,367.8 L516.2,370 L513,369.6Z M477.5,334 L478.6,333.8 L478.9,334.9 L477.8,335.2Z" fill="#a25b6d" stroke="#632136" stroke-width="1.4" stroke-linejoin="round"/>
<path d="M457.2,374.6 L455.5,379.5 L458,384.5 L456.3,388.6 L451.4,390.3 L444.8,391.9 L440.6,393.6 L439.8,399.4 L437.3,406 L435.7,410.9 L438.2,414.2 L435.7,419.2 L429.9,421.6 L428.3,427.4 L426.6,434 L428.3,440.6 L427.4,447.2 L429.1,453.8 L432.4,457.1 L438.2,460.4 L444.8,463.8 L448.9,467.1 L445.7,474.5 L443.2,481.1 L441.6,487.7 L440.7,491 L446.5,490.2 L453.1,488.5 L459.7,489.4 L463,491.8 L468.8,490.2 L473.8,492.7 L477.1,490.2 L481.2,491 L486.1,487.7 L491.1,486.1 L496.1,482.7 L501,479.4 L505.1,477.8 L506,474.5 L507.6,469.5 L502.7,464.6 L497.7,459.6 L493.6,454.7 L491.1,449.7 L496.1,446.4 L502.7,443.1 L509.3,439 L515.9,435.7 L520,434 L519.1,434 L518.2,427.4 L515.8,420.8 L514.1,414.2 L512.5,407.6 L510,402.7 L510.8,396.1 L510,390.3 L509.8,388.9 L507,387 L504.7,384.3 L503.4,380.6 L501.5,377.4 L499.7,376.5 L498.8,380.6 L494.2,381.5 L489.6,383.4 L485,385.2 L481.3,387.5 L478.6,386.6 L477.6,383.4 L473.1,381.1 L467.5,378.8 L460.2,375.1 L457,374.2Z" fill="#1f77b4" stroke="#0a3f75" stroke-width="1.4" stroke-linejoin="round"/>
<path d="M463,491.8 L462.2,497.6 L465.5,500.9 L471.3,501.7 L476.2,500.9 L482.8,499.3 L489.4,498.4 L494.4,500.9 L497.7,505.9 L502.7,509.2 L510.9,510 L517.5,507.5 L524.1,505.9 L530.7,504.2 L534.9,500.9 L536.5,496 L534.9,491 L537.3,486.1 L539.8,481.1 L540.6,475.3 L539,471.2 L532.4,470.4 L525.8,468.7 L520,468.7 L515.9,472 L510.9,472.8 L506,474.5 L505.1,477.8 L501,479.4 L496.1,482.7 L491.1,486.1 L486.1,487.7 L481.2,491 L477.1,490.2 L473.8,492.7 L468.8,490.2Z" fill="#7a6b90" stroke="#3f3358" stroke-width="1.4" stroke-linejoin="round"/>
<path d="M541,478 L546,479 L553,480 L560,479.5 L564.5,478 L572.7,474.7 L579.4,470.5 L586,469 L592.6,470.5 L599.2,469.7 L604,472.2 L606.6,475.5 L605,480.5 L602.5,486 L600,498 L596,501 L591,504.4 L587.6,507.7 L584.3,511 L582.7,513.5 L576,515 L567.8,516 L559.5,516.8 L553,516 L548,512.7 L543,507.7 L539,504.4 L535.6,501 L536.5,496 L535,491 L538,485Z" fill="#d62728" stroke="#8c0015" stroke-width="1.4" stroke-linejoin="round"/>
<path d="M390,430 L394.1,431.6 L397.4,436.6 L403.2,441.5 L409,446.5 L413.9,447.3 L415.6,451.4 L422.2,456.4 L430.4,460.5 L437.1,463.8 L443.7,466.3 L447.8,468.8 L445.3,474.5 L442.8,481.1 L441.2,487.7 L438.7,491.1 L433.8,494.4 L430.4,499.3 L427.1,504.3 L423.8,509.2 L423,511.7 L427.1,509.2 L431.3,510 L432.1,515.8 L432.9,522.4 L430.4,529 L432.1,535.6 L435.4,540.6 L439.5,546.4 L437.1,552.1 L432.1,556.3 L427.1,558.8 L420.5,557.9 L415.6,555.4 L409,553 L402.4,551.3 L395.8,553 L390.8,557.1 L386.7,562.1 L385,568.7 L380.9,567 L374.3,566.2 L369.4,564.5 L364.4,561.2 L357.8,560.4 L351.2,558.8 L344.6,556.3 L338,553.8 L333,552.1 L329.7,547.2 L332.2,543.9 L335.5,537.3 L338,529 L339.6,522.4 L341.3,514.2 L342.1,507.6 L340.5,502.6 L338,496 L335.5,488.6 L332.2,482.8 L327.2,477.8 L321.5,472.9 L315.7,469.6 L310.7,466.3 L314,463.8 L310.7,460.5 L316.5,458 L324.8,457.2 L333,458.9 L339.6,460.5 L345.4,460.5 L346.2,454.7 L344.6,448.1 L349.5,447.3 L352.8,451.4 L359.4,453.9 L364.4,453.1 L367.7,449.8 L372.7,446.5 L377.6,443.2 L380.9,438.2 L384.2,433.3Z M449.6,573.8 L454.2,568.1 L459.9,564.7 L461.4,572.7 L460.3,580.7 L457.6,590.2 L454.2,590.2 L450.7,582.9Z" fill="#bf484b" stroke="#7d0a1c" stroke-width="1.4" stroke-linejoin="round"/>
<path d="M342.7,301.6 L349.3,300.7 L355.9,302.4 L360,302.4 L359.2,305.7 L355,309.8 L350.9,314.8 L354.2,316.4 L360.8,317.2 L367.4,319.7 L369.1,323.9 L366.6,328.8 L362.5,332.9 L357.5,336.2 L354.2,339.5 L349.3,342.8 L355.9,343.7 L360,347 L363.3,351.1 L365.8,356.1 L369.1,362.7 L370.7,367.6 L374,372.6 L376.5,382.5 L375.7,389.1 L375.7,395.7 L379,397.3 L383.9,399.8 L387.2,403.9 L388.1,408.9 L386.4,414.7 L382.3,418.8 L377.3,420.4 L379,423.8 L382.3,424.6 L379.8,427.9 L375.7,430.4 L370.7,431.2 L362.5,432 L355.9,430.4 L352.6,432 L347.6,430.4 L341,429.5 L334.4,430.4 L327.8,431.2 L321.2,430.4 L316.2,432.8 L311.3,435 L308,433.7 L312.9,428.7 L317.9,423.8 L322.8,420.4 L327.8,418 L335.2,417.1 L339.4,415.5 L336.1,413.8 L331.1,413 L326.1,411.4 L322.8,408.9 L319.5,405.6 L324.5,402.3 L328.6,399 L331.1,394 L331.9,390.7 L333.6,382.5 L332.7,375.9 L336.1,370.9 L342.7,367.6 L344.3,364.3 L342.7,356.1 L337.7,347.8 L336.1,342.8 L337.7,337.9 L334.4,341.2 L331.9,347 L329.4,347.8 L330.3,342.8 L332.7,337.9 L335.2,332.9 L336.1,328.8 L334.4,323 L335.2,318.1 L337.7,313.1 L338.5,308.2 L341,304.9Z M302.2,359.4 L304.7,353.6 L309.6,350.3 L315.4,349.4 L319.5,351.1 L321.2,356.1 L320.4,362.7 L317.9,367.6 L312.9,365.1 L307.2,364.3 L303,362.7Z M324.5,302.4 L327.8,299.9 L333.6,298.3 L332.7,302.4 L328.6,306.5 L325.3,307.3Z M319.5,311.5 L322,309.8 L322.8,313.9 L320.4,318.9 L319.2,314.8Z M326.1,314.8 L330.3,313.1 L332.7,316.4 L331.1,320.5 L327.8,322.2 L326.1,318.9Z M327,329.6 L330.3,327.2 L331.9,330.5 L328.6,333.8 L326.6,332.9Z M322,341.2 L326.1,337.9 L329.4,335.4 L330.3,338.7 L327,342.8 L323.7,345.3 L322,343.7Z M359.2,295.8 L362.5,292.5 L366.6,291.7 L369.1,293.3 L365.8,295.8 L362.5,299.1 L360,299.9Z M378.5,279.7 L380.8,274 L384.2,270.6 L385.8,271.7 L383.1,277.4 L380.3,283.1 L378.5,283.6Z" fill="#bf484b" stroke="#7d0a1c" stroke-width="1.4" stroke-linejoin="round"/>
<path d="M593.1,609.5 L595.6,605.1 L598.2,600.1 L600,595.1 L600.7,591.9 L605.7,589.4 L611.3,586.3 L616.3,583.2 L621.3,580.7 L626.3,578.8 L632.6,576.9 L637.6,575.6 L642.6,576.9 L647.6,577.5 L652.6,576.3 L657.7,574.4 L660.2,572.5 L659.5,569.4 L662,568.1 L664.5,570 L666.4,573.1 L664.5,576.3 L663.3,580 L662,583.8 L658.9,584.4 L653.9,583.8 L648.9,583.8 L645.1,585 L642,586.9 L638.9,588.8 L636.4,590.7 L640.1,591.6 L643.2,590.7 L641.4,593.2 L638.2,594.4 L641.4,595.7 L638.9,596.9 L635.1,596.3 L633.2,597.6 L636.4,599.4 L634.5,600.7 L632,600.1 L633.2,602 L630.7,602.6 L628.2,600.1 L627.6,596.9 L623.8,595.7 L621.3,596.3 L620.7,598.8 L622.6,602 L625.1,605.1 L628.8,608.2 L635.1,615.1 L640.1,620.1 L643.9,622.6 L646.4,626.4 L645.1,628.9 L641.4,627.6 L637.6,628.9 L635.1,632.6 L634.5,637.7 L633.9,645.2 L633.2,647.7 L635.1,652.7 L636.4,658.3 L634.5,657.7 L632,652.7 L630.1,651.4 L628.8,655.2 L627.6,658.9 L625.7,655.2 L623.8,651.4 L622,652.7 L620.7,656.4 L618.2,652.7 L616.3,648.9 L614.4,645.8 L611.9,642.7 L609.4,640.2 L608.2,637.7 L611.9,634.5 L616.3,632.4 L619.4,630.4 L618.2,628.9 L613.8,630.4 L608.2,630.4 L606.3,627.6 L604.4,623.9 L601.3,622 L597.5,618.9 L594.4,615.1Z M586.3,610.7 L588.1,610.1 L591.3,613.9 L591.9,616.4 L589.4,615.1Z M598.2,625.1 L600,624.5 L600.7,627.6 L599,628.9Z M596.9,631.4 L600,630.8 L601.9,633.9 L600.7,637 L598.2,635.8Z M600.7,639.5 L603.2,638.9 L604.4,642 L602.5,643.9Z M632.6,661.5 L635.1,660.8 L635.7,663.3 L633.2,664Z M653.9,589.4 L657,588.2 L658.3,590.1 L655.8,591.3Z M650.8,598.2 L655.8,597.6 L655.1,601.3 L651.4,601.3Z M663.9,608.2 L668.3,605.7 L671.4,608.8 L671.4,611.3 L665.8,610.7Z M665.2,618.9 L668.3,618.2 L669.6,622 L668.3,625.1 L666.4,623.9Z M676.4,630.1 L680.2,628.3 L682.1,630.1 L678.3,632Z M668.9,633.9 L672.1,633.3 L671.4,635.1 L669.2,635.8Z M682.7,644.5 L687.7,642.7 L688.3,643.9 L684,646.4Z M695.9,650.2 L699.6,648.3 L701.5,648.9 L698.4,655.2 L695.9,656.4 L695.2,653.9Z M687.7,663.3 L689.6,662.7 L690.8,666.5 L689,667.1Z M647.6,628.3 L651.4,630.1 L655.1,633.3 L658.9,636.4 L662,638.9 L660.2,640.2 L656.4,637.7 L652.6,634.5 L648.9,631.4Z M650.1,643.9 L652.6,645.2 L651.4,647 L649.8,645.8Z M653.3,646.4 L655.1,647 L654.9,649.2 L653.3,648.7Z M650.8,651.4 L653.3,651.7 L652.6,653.3 L650.4,652.9Z M659.5,643.9 L662,642 L665.2,643.3 L665.8,645.8 L662.7,646.4Z M662,648.9 L664.5,650.2 L663.3,652.1 L661.7,650.8Z M667.7,647 L670.2,646.4 L670.4,648.9 L667.9,649.2Z M675.2,650.2 L678.3,648.9 L677.9,651.4 L675.4,652.1Z M664.5,653.9 L666.4,654.6 L665.8,657.1 L664.3,656.2Z M643.9,587.5 L645.8,587.3 L645.5,589.4 L643.9,589.4Z M642.7,673.1 L649.3,670.6 L655.9,672.2 L662.5,671.4 L669.1,672.2 L675.7,670.6 L679.8,670.6 L679,675.5 L672.4,677.2 L665.8,678 L660,679.7 L655.9,678 L649.3,677.2 L643.5,676.4Z" fill="#bf484b" stroke="#7d0a1c" stroke-width="1.4" stroke-linejoin="round"/>
<path d="M431.6,271.3 L438.2,272 L444.8,271.3 L450.5,270.7 M430.7,281.7 L436.5,283.4 L442.3,284.5 M467.1,231 L471.2,232.2 L476.1,230.5 L478.6,228.1 M475.3,300.7 L476.1,296.6 L475.5,292.5 M430.2,292.5 L435.7,293.3 L439.8,291.6 M441.5,249.5 L446.4,251.2 L450.5,249.5 M544.4,123.9 L545.2,127.2 L544.1,130.5 M556,116.5 L557.3,119.8 L556.3,123.1 M562.2,114.8 L563.4,118.1 M567.2,111.5 L568.3,114.8 M530.4,130.5 L532.5,134.6 L531.5,137.9 M579.9,118.1 L576.6,118.9 L574.1,118.1" fill="none" stroke="#3f3358" stroke-width="1.1" stroke-linecap="round" stroke-linejoin="round"/>
<g font-family="Liberation Sans, sans-serif" font-size="18.1" text-anchor="middle"><g transform="translate(497.5 205.2) scale(1.045 1)"><text stroke="#7a6b90" stroke-width="6.2" stroke-linejoin="round" fill="#7a6b90">Norway</text><text fill="#fff">Norway</text></g><g transform="translate(497.5 227.6) scale(1.045 1)"><text stroke="#7a6b90" stroke-width="6.2" stroke-linejoin="round" fill="#7a6b90">1</text><text fill="#fff">1</text></g><g transform="translate(579 202.2) scale(1.045 1)"><text stroke="#a25b6d" stroke-width="6.2" stroke-linejoin="round" fill="#a25b6d">Finland</text><text fill="#fff">Finland</text></g><g transform="translate(579 224.6) scale(1.045 1)"><text stroke="#a25b6d" stroke-width="6.2" stroke-linejoin="round" fill="#a25b6d">-1</text><text fill="#fff">-1</text></g><g transform="translate(519 258.5) scale(1.045 1)"><text stroke="#1f77b4" stroke-width="6.2" stroke-linejoin="round" fill="#1f77b4">Sweden</text><text fill="#fff">Sweden</text></g><g transform="translate(519 280.9) scale(1.045 1)"><text stroke="#1f77b4" stroke-width="6.2" stroke-linejoin="round" fill="#1f77b4">17</text><text fill="#fff">17</text></g><g transform="translate(469 356.2) scale(1.045 1)"><text stroke="#a25b6d" stroke-width="6.2" stroke-linejoin="round" fill="#a25b6d">Denmark</text><text fill="#fff">Denmark</text></g><g transform="translate(469 378.6) scale(1.045 1)"><text stroke="#a25b6d" stroke-width="6.2" stroke-linejoin="round" fill="#a25b6d">-7</text><text fill="#fff">-7</text></g><g transform="translate(343.5 365.6) scale(1.045 1)"><text stroke="#bf484b" stroke-width="6.2" stroke-linejoin="round" fill="#bf484b">United</text><text fill="#fff">United</text></g><g transform="translate(343.5 388) scale(1.045 1)"><text stroke="#bf484b" stroke-width="6.2" stroke-linejoin="round" fill="#bf484b">Kingdom</text><text fill="#fff">Kingdom</text></g><g transform="translate(343.5 410.4) scale(1.045 1)"><text stroke="#bf484b" stroke-width="6.2" stroke-linejoin="round" fill="#bf484b">-15</text><text fill="#fff">-15</text></g><g transform="translate(471 434.2) scale(1.045 1)"><text stroke="#1f77b4" stroke-width="6.2" stroke-linejoin="round" fill="#1f77b4">Germany</text><text fill="#fff">Germany</text></g><g transform="translate(471 456.6) scale(1.045 1)"><text stroke="#1f77b4" stroke-width="6.2" stroke-linejoin="round" fill="#1f77b4">27</text><text fill="#fff">27</text></g><g transform="translate(380.5 502) scale(1.045 1)"><text stroke="#bf484b" stroke-width="6.2" stroke-linejoin="round" fill="#bf484b">France</text><text fill="#fff">France</text></g><g transform="translate(380.5 524.4) scale(1.045 1)"><text stroke="#bf484b" stroke-width="6.2" stroke-linejoin="round" fill="#bf484b">-12</text><text fill="#fff">-12</text></g><g transform="translate(505.8 492.1) scale(1.045 1)"><text stroke="#7a6b90" stroke-width="6.2" stroke-linejoin="round" fill="#7a6b90">Austria</text><text fill="#fff">Austria</text></g><g transform="translate(505.8 514.5) scale(1.045 1)"><text stroke="#7a6b90" stroke-width="6.2" stroke-linejoin="round" fill="#7a6b90">3</text><text fill="#fff">3</text></g><g transform="translate(569.5 492.2) scale(1.045 1)"><text stroke="#d62728" stroke-width="6.2" stroke-linejoin="round" fill="#d62728">Hungary</text><text fill="#fff">Hungary</text></g><g transform="translate(569.5 514.6) scale(1.045 1)"><text stroke="#d62728" stroke-width="6.2" stroke-linejoin="round" fill="#d62728">-33</text><text fill="#fff">-33</text></g><g transform="translate(631 619.1) scale(1.045 1)"><text stroke="#bf484b" stroke-width="6.2" stroke-linejoin="round" fill="#bf484b">Greece</text><text fill="#fff">Greece</text></g><g transform="translate(631 641.5) scale(1.045 1)"><text stroke="#bf484b" stroke-width="6.2" stroke-linejoin="round" fill="#bf484b">-16</text><text fill="#fff">-16</text></g></g>
</g>
<text x="195.5" y="741.4" font-size="21.3" font-weight="bold" fill="#333">How well did these countries respond?</text>
<rect x="196" y="754.3" width="117.3" height="15.6" fill="#d62728"/>
<rect x="313" y="754.3" width="117.3" height="15.6" fill="#bf484b"/>
<rect x="430" y="754.3" width="117.3" height="15.6" fill="#a25b6d"/>
<rect x="547" y="754.3" width="117.3" height="15.6" fill="#7a6b90"/>
<rect x="664" y="754.3" width="117" height="15.6" fill="#1f77b4"/>
<rect x="312.95000000000005" y="753.2" width="1.3" height="22" fill="#000"/>
<text x="313.6" y="791.8" font-size="15.2" text-anchor="middle" fill="#000">-20</text>
<rect x="430.75" y="753.2" width="1.3" height="22" fill="#000"/>
<text x="431.4" y="791.8" font-size="15.2" text-anchor="middle" fill="#000">-10</text>
<rect x="548.45" y="753.2" width="1.3" height="22" fill="#000"/>
<text x="549.1" y="791.8" font-size="15.2" text-anchor="middle" fill="#000">0</text>
<rect x="666.25" y="753.2" width="1.3" height="22" fill="#000"/>
<text x="666.9" y="791.8" font-size="15.2" text-anchor="middle" fill="#000">10</text>
</svg>
</body></html>
